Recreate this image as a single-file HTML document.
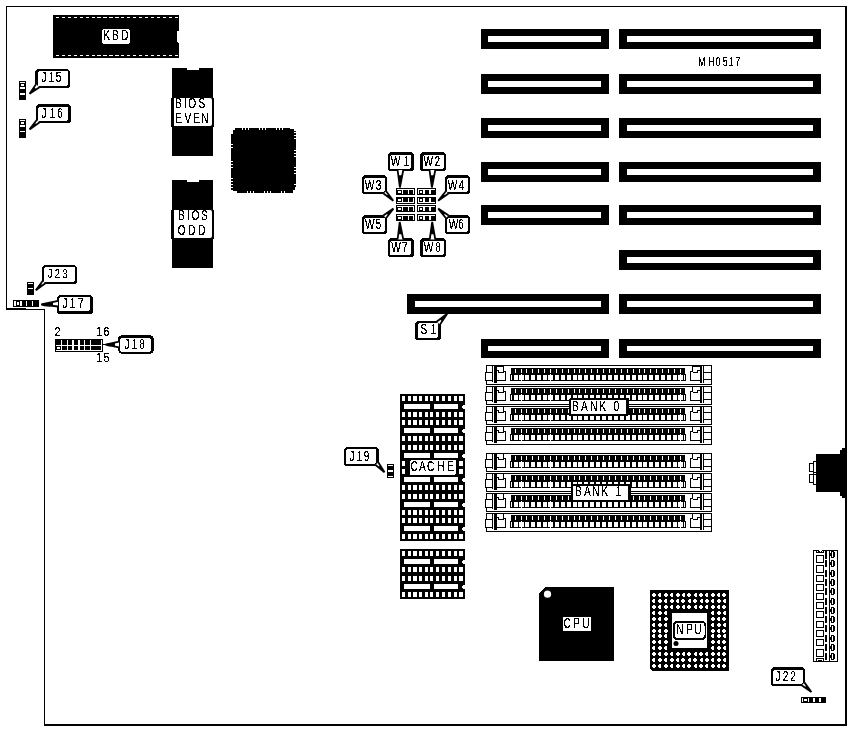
<!DOCTYPE html>
<html>
<head>
<meta charset="utf-8">
<title>MH0517</title>
<style>
html, body { margin: 0; padding: 0; background: #fff; }
svg { display: block; }
text { font-family: "Liberation Sans", sans-serif; fill: #000; stroke: #000; stroke-width: 0.22px; font-kerning: none; font-variant-ligatures: none; }
</style>
</head>
<body>
<svg width="851" height="731" viewBox="0 0 851 731" shape-rendering="crispEdges">
<rect x="0" y="0" width="851" height="731" fill="#fff"/>
<rect x="6" y="6" width="841" height="1"/>
<rect x="6" y="6" width="1" height="303"/>
<rect x="6" y="308" width="20" height="2"/>
<rect x="25" y="309" width="20" height="1"/>
<rect x="44" y="309" width="1" height="417"/>
<rect x="44" y="724" width="803" height="2"/>
<rect x="845" y="6" width="2" height="720"/>
<rect x="53" y="15" width="126" height="43"/>
<path d="M55.8 17.5 H178 M55.8 55.5 H178" stroke="#fff" stroke-width="1" stroke-dasharray="3.2 2.75" fill="none"/>
<path d="M179 31 h-2 v11 h1 v1 h1 Z" fill="#fff"/>
<path d="M103 29 H129 v1 h1 V43 h-1 v1 H103 v-1 h-1 V30 h1 Z" fill="#fff"/>
<rect x="19" y="81" width="7" height="19"/>
<rect x="20" y="82" width="5" height="1" fill="#fff"/>
<rect x="21" y="84" width="3" height="2" fill="#fff"/>
<rect x="20" y="87" width="5" height="2" fill="#fff"/>
<rect x="20" y="93" width="5" height="2" fill="#fff"/>
<rect x="35" y="69" width="35" height="19" rx="3.5" ry="3.5"/>
<rect x="38" y="71" width="30" height="15" rx="2.0" ry="2.0" fill="#fff"/>
<path d="M36 84.3 L29.6 93.8 L39.5 87.2" fill="#fff" stroke="#000" stroke-width="1.8" stroke-linejoin="bevel" shape-rendering="auto"/>
<path d="M34.08 87.15 L29.6 93.8 L36.53 89.18 Z" shape-rendering="auto"/>
<rect x="19" y="119" width="7" height="19"/>
<rect x="20" y="120" width="5" height="1" fill="#fff"/>
<rect x="21" y="122" width="3" height="2" fill="#fff"/>
<rect x="20" y="125" width="5" height="2" fill="#fff"/>
<rect x="20" y="131" width="5" height="1" fill="#fff"/>
<rect x="36" y="104" width="35" height="19" rx="3.5" ry="3.5"/>
<rect x="38" y="107" width="30" height="14" rx="2.0" ry="2.0" fill="#fff"/>
<path d="M36.7 120 L29.6 129.4 L39.7 122.3" fill="#fff" stroke="#000" stroke-width="1.8" stroke-linejoin="bevel" shape-rendering="auto"/>
<path d="M34.57 122.82 L29.6 129.4 L36.67 124.43 Z" shape-rendering="auto"/>
<rect x="172" y="68" width="41" height="88"/>
<rect x="187" y="68" width="12" height="2" fill="#fff"/>
<rect x="171" y="98" width="43" height="29" rx="1.5"/>
<path d="M174 98 H210 a2 2 0 0 1 2 2 V124 a2 2 0 0 1 -2 2 H174 Z" fill="#fff" shape-rendering="auto"/>
<rect x="172" y="180" width="41" height="88"/>
<rect x="187" y="180" width="12" height="2" fill="#fff"/>
<rect x="171" y="210" width="43" height="29" rx="1.5"/>
<path d="M174 210 H210 a2 2 0 0 1 2 2 V236 a2 2 0 0 1 -2 2 H174 Z" fill="#fff" shape-rendering="auto"/>
<path d="M235 128 H290 v1 h4 v2 h2 V187 h-1 v3 h-2 v3 H237 v-2 h-4 v-1 h-2 V134 h2 v-4 h2 Z"/>
<rect x="242" y="128" width="1" height="2" fill="#fff"/>
<rect x="245" y="128" width="1" height="2" fill="#fff"/>
<rect x="248" y="128" width="1" height="2" fill="#fff"/>
<rect x="259" y="128" width="1" height="2" fill="#fff"/>
<rect x="262" y="128" width="1" height="2" fill="#fff"/>
<rect x="265" y="128" width="1" height="2" fill="#fff"/>
<rect x="276" y="128" width="1" height="2" fill="#fff"/>
<rect x="279" y="128" width="1" height="2" fill="#fff"/>
<rect x="282" y="128" width="1" height="2" fill="#fff"/>
<rect x="247" y="191" width="1" height="2" fill="#fff"/>
<rect x="250" y="191" width="1" height="2" fill="#fff"/>
<rect x="253" y="191" width="1" height="2" fill="#fff"/>
<rect x="264" y="191" width="1" height="2" fill="#fff"/>
<rect x="267" y="191" width="1" height="2" fill="#fff"/>
<rect x="270" y="191" width="1" height="2" fill="#fff"/>
<rect x="281" y="191" width="1" height="2" fill="#fff"/>
<rect x="284" y="191" width="1" height="2" fill="#fff"/>
<rect x="231" y="144" width="2" height="1" fill="#fff"/>
<rect x="231" y="147" width="2" height="1" fill="#fff"/>
<rect x="231" y="161" width="2" height="1" fill="#fff"/>
<rect x="231" y="164" width="2" height="1" fill="#fff"/>
<rect x="231" y="167" width="2" height="1" fill="#fff"/>
<rect x="231" y="178" width="2" height="1" fill="#fff"/>
<rect x="231" y="181" width="2" height="1" fill="#fff"/>
<rect x="231" y="184" width="2" height="1" fill="#fff"/>
<rect x="231" y="187" width="2" height="1" fill="#fff"/>
<rect x="294" y="132" width="2" height="1" fill="#fff"/>
<rect x="294" y="135" width="2" height="1" fill="#fff"/>
<rect x="294" y="138" width="2" height="1" fill="#fff"/>
<rect x="294" y="150" width="2" height="1" fill="#fff"/>
<rect x="294" y="153" width="2" height="1" fill="#fff"/>
<rect x="294" y="156" width="2" height="1" fill="#fff"/>
<rect x="294" y="167" width="2" height="1" fill="#fff"/>
<rect x="294" y="170" width="2" height="1" fill="#fff"/>
<rect x="294" y="173" width="2" height="1" fill="#fff"/>
<rect x="294" y="184" width="2" height="1" fill="#fff"/>
<rect x="481" y="29" width="128" height="20"/>
<rect x="488" y="36" width="113" height="6" fill="#fff"/>
<rect x="481" y="74" width="128" height="20"/>
<rect x="488" y="81" width="113" height="6" fill="#fff"/>
<rect x="481" y="118" width="128" height="20"/>
<rect x="488" y="125" width="113" height="6" fill="#fff"/>
<rect x="481" y="162" width="128" height="20"/>
<rect x="488" y="169" width="113" height="6" fill="#fff"/>
<rect x="481" y="205" width="128" height="20"/>
<rect x="488" y="212" width="113" height="6" fill="#fff"/>
<rect x="407" y="294" width="202" height="20"/>
<rect x="415" y="301" width="186" height="6" fill="#fff"/>
<rect x="481" y="339" width="128" height="19"/>
<rect x="488" y="346" width="113" height="5" fill="#fff"/>
<rect x="619" y="29" width="202" height="20"/>
<rect x="627" y="36" width="186" height="6" fill="#fff"/>
<rect x="619" y="74" width="202" height="20"/>
<rect x="627" y="81" width="186" height="6" fill="#fff"/>
<rect x="619" y="118" width="202" height="20"/>
<rect x="627" y="125" width="186" height="6" fill="#fff"/>
<rect x="619" y="162" width="202" height="20"/>
<rect x="627" y="169" width="186" height="6" fill="#fff"/>
<rect x="619" y="205" width="202" height="20"/>
<rect x="627" y="212" width="186" height="6" fill="#fff"/>
<rect x="619" y="250" width="202" height="20"/>
<rect x="627" y="257" width="186" height="6" fill="#fff"/>
<rect x="619" y="294" width="202" height="20"/>
<rect x="627" y="301" width="186" height="6" fill="#fff"/>
<rect x="619" y="339" width="202" height="19"/>
<rect x="627" y="346" width="186" height="5" fill="#fff"/>
<rect x="415" y="321" width="26" height="19" rx="3.5" ry="3.5"/>
<rect x="418" y="323" width="20" height="15" rx="2.0" ry="2.0" fill="#fff"/>
<path d="M436.5 321.7 L447.2 313.8 L440 324.5" fill="#fff" stroke="#000" stroke-width="1.8" stroke-linejoin="bevel" shape-rendering="auto"/>
<path d="M439.71 319.33 L447.2 313.8 L442.16 321.29 Z" shape-rendering="auto"/>
<rect x="396" y="188" width="19" height="7"/>
<rect x="397" y="189" width="17" height="1" fill="#fff"/>
<rect x="402" y="189" width="1" height="5" fill="#fff"/>
<rect x="408" y="189" width="1" height="5" fill="#fff"/>
<rect x="413" y="189" width="1" height="5" fill="#fff"/>
<rect x="398" y="191" width="3" height="2" fill="#fff"/>
<rect x="417" y="188" width="19" height="7"/>
<rect x="418" y="189" width="17" height="1" fill="#fff"/>
<rect x="418" y="189" width="1" height="5" fill="#fff"/>
<rect x="420" y="191" width="2" height="2" fill="#fff"/>
<rect x="423" y="189" width="2" height="5" fill="#fff"/>
<rect x="429" y="189" width="2" height="5" fill="#fff"/>
<rect x="396" y="197" width="19" height="7"/>
<rect x="397" y="202" width="17" height="1" fill="#fff"/>
<rect x="402" y="198" width="1" height="5" fill="#fff"/>
<rect x="408" y="198" width="1" height="5" fill="#fff"/>
<rect x="413" y="198" width="1" height="5" fill="#fff"/>
<rect x="398" y="199" width="3" height="2" fill="#fff"/>
<rect x="417" y="197" width="19" height="7"/>
<rect x="418" y="202" width="17" height="1" fill="#fff"/>
<rect x="418" y="198" width="1" height="5" fill="#fff"/>
<rect x="420" y="199" width="2" height="2" fill="#fff"/>
<rect x="423" y="198" width="2" height="5" fill="#fff"/>
<rect x="429" y="198" width="2" height="5" fill="#fff"/>
<rect x="396" y="205" width="19" height="7"/>
<rect x="397" y="206" width="17" height="1" fill="#fff"/>
<rect x="402" y="206" width="1" height="5" fill="#fff"/>
<rect x="408" y="206" width="1" height="5" fill="#fff"/>
<rect x="413" y="206" width="1" height="5" fill="#fff"/>
<rect x="398" y="208" width="3" height="2" fill="#fff"/>
<rect x="417" y="205" width="19" height="7"/>
<rect x="418" y="206" width="17" height="1" fill="#fff"/>
<rect x="418" y="206" width="1" height="5" fill="#fff"/>
<rect x="420" y="208" width="2" height="2" fill="#fff"/>
<rect x="423" y="206" width="2" height="5" fill="#fff"/>
<rect x="429" y="206" width="2" height="5" fill="#fff"/>
<rect x="396" y="214" width="19" height="7"/>
<rect x="397" y="215" width="17" height="1" fill="#fff"/>
<rect x="402" y="215" width="1" height="5" fill="#fff"/>
<rect x="408" y="215" width="1" height="5" fill="#fff"/>
<rect x="413" y="215" width="1" height="5" fill="#fff"/>
<rect x="398" y="217" width="3" height="2" fill="#fff"/>
<rect x="417" y="214" width="19" height="7"/>
<rect x="418" y="215" width="17" height="1" fill="#fff"/>
<rect x="418" y="215" width="1" height="5" fill="#fff"/>
<rect x="420" y="217" width="2" height="2" fill="#fff"/>
<rect x="423" y="215" width="2" height="5" fill="#fff"/>
<rect x="429" y="215" width="2" height="5" fill="#fff"/>
<rect x="388" y="152" width="26" height="19" rx="3.5" ry="3.5"/>
<rect x="390" y="155" width="21" height="14" rx="2.0" ry="2.0" fill="#fff"/>
<path d="M397.6 170 L399.9 187.5 L403.3 170" fill="#fff" stroke="#000" stroke-width="1.8" stroke-linejoin="bevel" shape-rendering="auto"/>
<path d="M398.29 175.25 L399.9 187.5 L402.28 175.25 Z" shape-rendering="auto"/>
<rect x="420" y="152" width="26" height="19" rx="3.5" ry="3.5"/>
<rect x="423" y="155" width="21" height="14" rx="2.0" ry="2.0" fill="#fff"/>
<path d="M429.5 170 L431.9 187.5 L435.3 170" fill="#fff" stroke="#000" stroke-width="1.8" stroke-linejoin="bevel" shape-rendering="auto"/>
<path d="M430.22 175.25 L431.9 187.5 L434.28 175.25 Z" shape-rendering="auto"/>
<rect x="362" y="175" width="25" height="19" rx="3.5" ry="3.5"/>
<rect x="364" y="178" width="21" height="14" rx="2.0" ry="2.0" fill="#fff"/>
<path d="M386.2 191.3 L393.3 200.8 L383.5 193.5" fill="#fff" stroke="#000" stroke-width="1.8" stroke-linejoin="bevel" shape-rendering="auto"/>
<path d="M388.33 194.15 L393.3 200.8 L386.44 195.69 Z" shape-rendering="auto"/>
<rect x="445" y="175" width="25" height="19" rx="3.5" ry="3.5"/>
<rect x="447" y="178" width="21" height="14" rx="2.0" ry="2.0" fill="#fff"/>
<path d="M445.8 191.3 L438.2 200.8 L448.5 193.5" fill="#fff" stroke="#000" stroke-width="1.8" stroke-linejoin="bevel" shape-rendering="auto"/>
<path d="M443.52 194.15 L438.2 200.8 L445.41 195.69 Z" shape-rendering="auto"/>
<rect x="362" y="215" width="25" height="19" rx="3.5" ry="3.5"/>
<rect x="364" y="218" width="21" height="14" rx="2.0" ry="2.0" fill="#fff"/>
<path d="M383.3 215.6 L393.4 208.6 L386.2 218" fill="#fff" stroke="#000" stroke-width="1.8" stroke-linejoin="bevel" shape-rendering="auto"/>
<path d="M386.33 213.5 L393.4 208.6 L388.36 215.18 Z" shape-rendering="auto"/>
<rect x="445" y="215" width="25" height="19" rx="3.5" ry="3.5"/>
<rect x="447" y="218" width="21" height="14" rx="2.0" ry="2.0" fill="#fff"/>
<path d="M448.7 215.6 L438.2 208.6 L445.8 218" fill="#fff" stroke="#000" stroke-width="1.8" stroke-linejoin="bevel" shape-rendering="auto"/>
<path d="M445.55 213.5 L438.2 208.6 L443.52 215.18 Z" shape-rendering="auto"/>
<rect x="388" y="238" width="26" height="19" rx="3.5" ry="3.5"/>
<rect x="390" y="241" width="21" height="14" rx="2.0" ry="2.0" fill="#fff"/>
<path d="M397.6 239.5 L399.7 222 L403.3 239.5" fill="#fff" stroke="#000" stroke-width="1.8" stroke-linejoin="bevel" shape-rendering="auto"/>
<path d="M398.23 234.25 L399.7 222 L402.22 234.25 Z" shape-rendering="auto"/>
<rect x="420" y="238" width="26" height="19" rx="3.5" ry="3.5"/>
<rect x="423" y="241" width="21" height="14" rx="2.0" ry="2.0" fill="#fff"/>
<path d="M429.7 239.5 L432.2 222 L435.3 239.5" fill="#fff" stroke="#000" stroke-width="1.8" stroke-linejoin="bevel" shape-rendering="auto"/>
<path d="M430.45 234.25 L432.2 222 L434.37 234.25 Z" shape-rendering="auto"/>
<rect x="27" y="282" width="7" height="13"/>
<rect x="28" y="283" width="5" height="1" fill="#fff"/>
<rect x="28" y="288" width="5" height="1" fill="#fff"/>
<rect x="42" y="265" width="35" height="19" rx="3.5" ry="3.5"/>
<rect x="44" y="267" width="31" height="15" rx="2.0" ry="2.0" fill="#fff"/>
<path d="M42.6 281 L35.8 290.2 L45.4 283.2" fill="#fff" stroke="#000" stroke-width="1.8" stroke-linejoin="bevel" shape-rendering="auto"/>
<path d="M40.56 283.76 L35.8 290.2 L42.52 285.3 Z" shape-rendering="auto"/>
<rect x="13" y="300" width="26" height="7"/>
<rect x="14" y="301" width="2" height="5" fill="#fff"/>
<rect x="20" y="301" width="2" height="5" fill="#fff"/>
<rect x="17" y="302" width="2" height="3" fill="#fff"/>
<rect x="26" y="301" width="1" height="5" fill="#fff"/>
<rect x="32" y="301" width="1" height="5" fill="#fff"/>
<rect x="57" y="295" width="36" height="19" rx="3.5" ry="3.5"/>
<rect x="59" y="297" width="31" height="14" rx="2.0" ry="2.0" fill="#fff"/>
<path d="M58 300.8 L41.3 304.5 L58 306.5" fill="#fff" stroke="#000" stroke-width="1.8" stroke-linejoin="bevel" shape-rendering="auto"/>
<path d="M52.99 301.91 L41.3 304.5 L52.99 305.9 Z" shape-rendering="auto"/>
<path d="M41.2 304.6 L44 303 L50.5 302.7 L50.5 306.4 L44 306.2 Z" shape-rendering="auto"/>
<rect x="55" y="339" width="48" height="13"/>
<rect x="61" y="340" width="1" height="11" fill="#fff"/>
<rect x="67" y="340" width="1" height="11" fill="#fff"/>
<rect x="72" y="340" width="2" height="11" fill="#fff"/>
<rect x="78" y="340" width="2" height="11" fill="#fff"/>
<rect x="84" y="340" width="1" height="11" fill="#fff"/>
<rect x="90" y="340" width="1" height="11" fill="#fff"/>
<rect x="101" y="340" width="1" height="11" fill="#fff"/>
<rect x="56" y="345" width="46" height="1" fill="#fff"/>
<rect x="56" y="350" width="46" height="1" fill="#fff"/>
<rect x="57" y="347" width="3" height="2" fill="#fff"/>
<rect x="103" y="344" width="4" height="1"/>
<rect x="118" y="335" width="36" height="19" rx="4.5" ry="4.5"/>
<rect x="120" y="338" width="31" height="14" rx="3.0" ry="3.0" fill="#fff"/>
<path d="M119 341.7 L105.5 344.6 L119 347.4" fill="#fff" stroke="#000" stroke-width="1.8" stroke-linejoin="bevel" shape-rendering="auto"/>
<path d="M114.95 342.57 L105.5 344.6 L114.95 346.56 Z" shape-rendering="auto"/>
<path d="M105.5 344.6 L108 343.3 L111.5 343.2 L111.5 346.3 L108 346.3 Z" shape-rendering="auto"/>
<rect x="486" y="365" width="226" height="1"/>
<rect x="486" y="384" width="226" height="1"/>
<rect x="486" y="365" width="1" height="20"/>
<rect x="711" y="365" width="1" height="20"/>
<rect x="485" y="372" width="8" height="1"/>
<rect x="485" y="372" width="1" height="9"/>
<rect x="485" y="380" width="8" height="1"/>
<rect x="486" y="373" width="1" height="7" fill="#fff"/>
<rect x="492" y="365" width="1" height="17"/>
<rect x="494" y="365" width="3" height="18"/>
<rect x="497" y="366" width="7" height="1"/>
<rect x="503" y="366" width="1" height="6"/>
<rect x="503" y="371" width="3" height="1"/>
<rect x="505" y="371" width="1" height="10"/>
<rect x="497" y="380" width="9" height="1"/>
<rect x="497" y="370" width="2" height="1"/>
<rect x="498" y="370" width="1" height="3"/>
<rect x="498" y="372" width="6" height="1"/>
<rect x="511" y="368" width="174" height="7"/>
<rect x="510" y="374" width="176" height="7"/>
<rect x="511" y="375" width="1" height="5" fill="#fff"/>
<rect x="514" y="375" width="4" height="5" fill="#fff"/>
<rect x="515" y="369" width="1" height="4" fill="#fff"/>
<rect x="520" y="375" width="4" height="5" fill="#fff"/>
<rect x="521" y="369" width="1" height="4" fill="#fff"/>
<rect x="525" y="375" width="4" height="5" fill="#fff"/>
<rect x="526" y="369" width="1" height="4" fill="#fff"/>
<rect x="531" y="375" width="4" height="5" fill="#fff"/>
<rect x="532" y="369" width="1" height="4" fill="#fff"/>
<rect x="537" y="375" width="4" height="5" fill="#fff"/>
<rect x="538" y="369" width="1" height="4" fill="#fff"/>
<rect x="543" y="375" width="4" height="5" fill="#fff"/>
<rect x="544" y="369" width="1" height="4" fill="#fff"/>
<rect x="549" y="375" width="4" height="5" fill="#fff"/>
<rect x="550" y="369" width="1" height="4" fill="#fff"/>
<rect x="555" y="375" width="4" height="5" fill="#fff"/>
<rect x="556" y="369" width="1" height="4" fill="#fff"/>
<rect x="561" y="375" width="4" height="5" fill="#fff"/>
<rect x="562" y="369" width="1" height="4" fill="#fff"/>
<rect x="567" y="375" width="4" height="5" fill="#fff"/>
<rect x="568" y="369" width="1" height="4" fill="#fff"/>
<rect x="573" y="375" width="4" height="5" fill="#fff"/>
<rect x="574" y="369" width="1" height="4" fill="#fff"/>
<rect x="578" y="375" width="4" height="5" fill="#fff"/>
<rect x="579" y="369" width="1" height="4" fill="#fff"/>
<rect x="584" y="375" width="4" height="5" fill="#fff"/>
<rect x="585" y="369" width="1" height="4" fill="#fff"/>
<rect x="590" y="375" width="4" height="5" fill="#fff"/>
<rect x="591" y="369" width="1" height="4" fill="#fff"/>
<rect x="596" y="375" width="4" height="5" fill="#fff"/>
<rect x="597" y="369" width="1" height="4" fill="#fff"/>
<rect x="602" y="375" width="4" height="5" fill="#fff"/>
<rect x="603" y="369" width="1" height="4" fill="#fff"/>
<rect x="608" y="375" width="4" height="5" fill="#fff"/>
<rect x="609" y="369" width="1" height="4" fill="#fff"/>
<rect x="614" y="375" width="4" height="5" fill="#fff"/>
<rect x="615" y="369" width="1" height="4" fill="#fff"/>
<rect x="620" y="375" width="4" height="5" fill="#fff"/>
<rect x="621" y="369" width="1" height="4" fill="#fff"/>
<rect x="626" y="375" width="4" height="5" fill="#fff"/>
<rect x="627" y="369" width="1" height="4" fill="#fff"/>
<rect x="632" y="375" width="4" height="5" fill="#fff"/>
<rect x="633" y="369" width="1" height="4" fill="#fff"/>
<rect x="638" y="375" width="4" height="5" fill="#fff"/>
<rect x="639" y="369" width="1" height="4" fill="#fff"/>
<rect x="643" y="375" width="4" height="5" fill="#fff"/>
<rect x="644" y="369" width="1" height="4" fill="#fff"/>
<rect x="649" y="375" width="4" height="5" fill="#fff"/>
<rect x="650" y="369" width="1" height="4" fill="#fff"/>
<rect x="655" y="375" width="4" height="5" fill="#fff"/>
<rect x="656" y="369" width="1" height="4" fill="#fff"/>
<rect x="661" y="375" width="4" height="5" fill="#fff"/>
<rect x="662" y="369" width="1" height="4" fill="#fff"/>
<rect x="667" y="375" width="4" height="5" fill="#fff"/>
<rect x="668" y="369" width="1" height="4" fill="#fff"/>
<rect x="673" y="375" width="4" height="5" fill="#fff"/>
<rect x="674" y="369" width="1" height="4" fill="#fff"/>
<rect x="679" y="375" width="4" height="5" fill="#fff"/>
<rect x="680" y="369" width="1" height="4" fill="#fff"/>
<rect x="684" y="375" width="1" height="5" fill="#fff"/>
<rect x="519" y="375" width="5" height="5" fill="#fff"/>
<rect x="521" y="374" width="1" height="1" fill="#fff"/>
<rect x="521" y="380" width="1" height="1" fill="#fff"/>
<rect x="548" y="375" width="5" height="5" fill="#fff"/>
<rect x="550" y="374" width="1" height="1" fill="#fff"/>
<rect x="550" y="380" width="1" height="1" fill="#fff"/>
<rect x="678" y="375" width="5" height="5" fill="#fff"/>
<rect x="680" y="374" width="1" height="1" fill="#fff"/>
<rect x="680" y="380" width="1" height="1" fill="#fff"/>
<rect x="692" y="366" width="8" height="1"/>
<rect x="692" y="366" width="1" height="6"/>
<rect x="690" y="371" width="3" height="1"/>
<rect x="690" y="371" width="1" height="10"/>
<rect x="690" y="380" width="10" height="1"/>
<rect x="697" y="370" width="3" height="1"/>
<rect x="697" y="370" width="1" height="3"/>
<rect x="693" y="372" width="5" height="1"/>
<rect x="700" y="365" width="2" height="18"/>
<rect x="703" y="365" width="1" height="18"/>
<rect x="704" y="372" width="8" height="1"/>
<rect x="704" y="379" width="8" height="1"/>
<rect x="486" y="386" width="226" height="1"/>
<rect x="486" y="404" width="226" height="1"/>
<rect x="486" y="386" width="1" height="19"/>
<rect x="711" y="386" width="1" height="19"/>
<rect x="485" y="392" width="8" height="1"/>
<rect x="485" y="392" width="1" height="9"/>
<rect x="485" y="400" width="8" height="1"/>
<rect x="486" y="393" width="1" height="7" fill="#fff"/>
<rect x="492" y="386" width="1" height="16"/>
<rect x="494" y="386" width="3" height="17"/>
<rect x="497" y="386" width="7" height="1"/>
<rect x="503" y="386" width="1" height="6"/>
<rect x="503" y="391" width="3" height="1"/>
<rect x="505" y="391" width="1" height="10"/>
<rect x="497" y="400" width="9" height="1"/>
<rect x="497" y="390" width="2" height="1"/>
<rect x="498" y="390" width="1" height="3"/>
<rect x="498" y="392" width="6" height="1"/>
<rect x="511" y="388" width="174" height="7"/>
<rect x="510" y="394" width="176" height="7"/>
<rect x="511" y="395" width="1" height="5" fill="#fff"/>
<rect x="514" y="395" width="4" height="5" fill="#fff"/>
<rect x="515" y="389" width="1" height="4" fill="#fff"/>
<rect x="520" y="395" width="4" height="5" fill="#fff"/>
<rect x="521" y="389" width="1" height="4" fill="#fff"/>
<rect x="525" y="395" width="4" height="5" fill="#fff"/>
<rect x="526" y="389" width="1" height="4" fill="#fff"/>
<rect x="531" y="395" width="4" height="5" fill="#fff"/>
<rect x="532" y="389" width="1" height="4" fill="#fff"/>
<rect x="537" y="395" width="4" height="5" fill="#fff"/>
<rect x="538" y="389" width="1" height="4" fill="#fff"/>
<rect x="543" y="395" width="4" height="5" fill="#fff"/>
<rect x="544" y="389" width="1" height="4" fill="#fff"/>
<rect x="549" y="395" width="4" height="5" fill="#fff"/>
<rect x="550" y="389" width="1" height="4" fill="#fff"/>
<rect x="555" y="395" width="4" height="5" fill="#fff"/>
<rect x="556" y="389" width="1" height="4" fill="#fff"/>
<rect x="561" y="395" width="4" height="5" fill="#fff"/>
<rect x="562" y="389" width="1" height="4" fill="#fff"/>
<rect x="567" y="395" width="4" height="5" fill="#fff"/>
<rect x="568" y="389" width="1" height="4" fill="#fff"/>
<rect x="573" y="395" width="4" height="5" fill="#fff"/>
<rect x="574" y="389" width="1" height="4" fill="#fff"/>
<rect x="578" y="395" width="4" height="5" fill="#fff"/>
<rect x="579" y="389" width="1" height="4" fill="#fff"/>
<rect x="584" y="395" width="4" height="5" fill="#fff"/>
<rect x="585" y="389" width="1" height="4" fill="#fff"/>
<rect x="590" y="395" width="4" height="5" fill="#fff"/>
<rect x="591" y="389" width="1" height="4" fill="#fff"/>
<rect x="596" y="395" width="4" height="5" fill="#fff"/>
<rect x="597" y="389" width="1" height="4" fill="#fff"/>
<rect x="602" y="395" width="4" height="5" fill="#fff"/>
<rect x="603" y="389" width="1" height="4" fill="#fff"/>
<rect x="608" y="395" width="4" height="5" fill="#fff"/>
<rect x="609" y="389" width="1" height="4" fill="#fff"/>
<rect x="614" y="395" width="4" height="5" fill="#fff"/>
<rect x="615" y="389" width="1" height="4" fill="#fff"/>
<rect x="620" y="395" width="4" height="5" fill="#fff"/>
<rect x="621" y="389" width="1" height="4" fill="#fff"/>
<rect x="626" y="395" width="4" height="5" fill="#fff"/>
<rect x="627" y="389" width="1" height="4" fill="#fff"/>
<rect x="632" y="395" width="4" height="5" fill="#fff"/>
<rect x="633" y="389" width="1" height="4" fill="#fff"/>
<rect x="638" y="395" width="4" height="5" fill="#fff"/>
<rect x="639" y="389" width="1" height="4" fill="#fff"/>
<rect x="643" y="395" width="4" height="5" fill="#fff"/>
<rect x="644" y="389" width="1" height="4" fill="#fff"/>
<rect x="649" y="395" width="4" height="5" fill="#fff"/>
<rect x="650" y="389" width="1" height="4" fill="#fff"/>
<rect x="655" y="395" width="4" height="5" fill="#fff"/>
<rect x="656" y="389" width="1" height="4" fill="#fff"/>
<rect x="661" y="395" width="4" height="5" fill="#fff"/>
<rect x="662" y="389" width="1" height="4" fill="#fff"/>
<rect x="667" y="395" width="4" height="5" fill="#fff"/>
<rect x="668" y="389" width="1" height="4" fill="#fff"/>
<rect x="673" y="395" width="4" height="5" fill="#fff"/>
<rect x="674" y="389" width="1" height="4" fill="#fff"/>
<rect x="679" y="395" width="4" height="5" fill="#fff"/>
<rect x="680" y="389" width="1" height="4" fill="#fff"/>
<rect x="684" y="395" width="1" height="5" fill="#fff"/>
<rect x="519" y="395" width="5" height="5" fill="#fff"/>
<rect x="521" y="394" width="1" height="1" fill="#fff"/>
<rect x="521" y="400" width="1" height="1" fill="#fff"/>
<rect x="548" y="395" width="5" height="5" fill="#fff"/>
<rect x="550" y="394" width="1" height="1" fill="#fff"/>
<rect x="550" y="400" width="1" height="1" fill="#fff"/>
<rect x="678" y="395" width="5" height="5" fill="#fff"/>
<rect x="680" y="394" width="1" height="1" fill="#fff"/>
<rect x="680" y="400" width="1" height="1" fill="#fff"/>
<rect x="692" y="386" width="8" height="1"/>
<rect x="692" y="386" width="1" height="6"/>
<rect x="690" y="391" width="3" height="1"/>
<rect x="690" y="391" width="1" height="10"/>
<rect x="690" y="400" width="10" height="1"/>
<rect x="697" y="390" width="3" height="1"/>
<rect x="697" y="390" width="1" height="3"/>
<rect x="693" y="392" width="5" height="1"/>
<rect x="700" y="386" width="2" height="17"/>
<rect x="703" y="386" width="1" height="17"/>
<rect x="704" y="392" width="8" height="1"/>
<rect x="704" y="399" width="8" height="1"/>
<rect x="486" y="406" width="226" height="1"/>
<rect x="486" y="424" width="226" height="1"/>
<rect x="486" y="406" width="1" height="19"/>
<rect x="711" y="406" width="1" height="19"/>
<rect x="485" y="412" width="8" height="1"/>
<rect x="485" y="412" width="1" height="9"/>
<rect x="485" y="420" width="8" height="1"/>
<rect x="486" y="413" width="1" height="7" fill="#fff"/>
<rect x="492" y="406" width="1" height="16"/>
<rect x="494" y="406" width="3" height="17"/>
<rect x="497" y="406" width="7" height="1"/>
<rect x="503" y="406" width="1" height="6"/>
<rect x="503" y="411" width="3" height="1"/>
<rect x="505" y="411" width="1" height="10"/>
<rect x="497" y="420" width="9" height="1"/>
<rect x="497" y="410" width="2" height="1"/>
<rect x="498" y="410" width="1" height="3"/>
<rect x="498" y="412" width="6" height="1"/>
<rect x="511" y="408" width="174" height="7"/>
<rect x="510" y="414" width="176" height="7"/>
<rect x="511" y="415" width="1" height="5" fill="#fff"/>
<rect x="514" y="415" width="4" height="5" fill="#fff"/>
<rect x="515" y="409" width="1" height="4" fill="#fff"/>
<rect x="520" y="415" width="4" height="5" fill="#fff"/>
<rect x="521" y="409" width="1" height="4" fill="#fff"/>
<rect x="525" y="415" width="4" height="5" fill="#fff"/>
<rect x="526" y="409" width="1" height="4" fill="#fff"/>
<rect x="531" y="415" width="4" height="5" fill="#fff"/>
<rect x="532" y="409" width="1" height="4" fill="#fff"/>
<rect x="537" y="415" width="4" height="5" fill="#fff"/>
<rect x="538" y="409" width="1" height="4" fill="#fff"/>
<rect x="543" y="415" width="4" height="5" fill="#fff"/>
<rect x="544" y="409" width="1" height="4" fill="#fff"/>
<rect x="549" y="415" width="4" height="5" fill="#fff"/>
<rect x="550" y="409" width="1" height="4" fill="#fff"/>
<rect x="555" y="415" width="4" height="5" fill="#fff"/>
<rect x="556" y="409" width="1" height="4" fill="#fff"/>
<rect x="561" y="415" width="4" height="5" fill="#fff"/>
<rect x="562" y="409" width="1" height="4" fill="#fff"/>
<rect x="567" y="415" width="4" height="5" fill="#fff"/>
<rect x="568" y="409" width="1" height="4" fill="#fff"/>
<rect x="573" y="415" width="4" height="5" fill="#fff"/>
<rect x="574" y="409" width="1" height="4" fill="#fff"/>
<rect x="578" y="415" width="4" height="5" fill="#fff"/>
<rect x="579" y="409" width="1" height="4" fill="#fff"/>
<rect x="584" y="415" width="4" height="5" fill="#fff"/>
<rect x="585" y="409" width="1" height="4" fill="#fff"/>
<rect x="590" y="415" width="4" height="5" fill="#fff"/>
<rect x="591" y="409" width="1" height="4" fill="#fff"/>
<rect x="596" y="415" width="4" height="5" fill="#fff"/>
<rect x="597" y="409" width="1" height="4" fill="#fff"/>
<rect x="602" y="415" width="4" height="5" fill="#fff"/>
<rect x="603" y="409" width="1" height="4" fill="#fff"/>
<rect x="608" y="415" width="4" height="5" fill="#fff"/>
<rect x="609" y="409" width="1" height="4" fill="#fff"/>
<rect x="614" y="415" width="4" height="5" fill="#fff"/>
<rect x="615" y="409" width="1" height="4" fill="#fff"/>
<rect x="620" y="415" width="4" height="5" fill="#fff"/>
<rect x="621" y="409" width="1" height="4" fill="#fff"/>
<rect x="626" y="415" width="4" height="5" fill="#fff"/>
<rect x="627" y="409" width="1" height="4" fill="#fff"/>
<rect x="632" y="415" width="4" height="5" fill="#fff"/>
<rect x="633" y="409" width="1" height="4" fill="#fff"/>
<rect x="638" y="415" width="4" height="5" fill="#fff"/>
<rect x="639" y="409" width="1" height="4" fill="#fff"/>
<rect x="643" y="415" width="4" height="5" fill="#fff"/>
<rect x="644" y="409" width="1" height="4" fill="#fff"/>
<rect x="649" y="415" width="4" height="5" fill="#fff"/>
<rect x="650" y="409" width="1" height="4" fill="#fff"/>
<rect x="655" y="415" width="4" height="5" fill="#fff"/>
<rect x="656" y="409" width="1" height="4" fill="#fff"/>
<rect x="661" y="415" width="4" height="5" fill="#fff"/>
<rect x="662" y="409" width="1" height="4" fill="#fff"/>
<rect x="667" y="415" width="4" height="5" fill="#fff"/>
<rect x="668" y="409" width="1" height="4" fill="#fff"/>
<rect x="673" y="415" width="4" height="5" fill="#fff"/>
<rect x="674" y="409" width="1" height="4" fill="#fff"/>
<rect x="679" y="415" width="4" height="5" fill="#fff"/>
<rect x="680" y="409" width="1" height="4" fill="#fff"/>
<rect x="684" y="415" width="1" height="5" fill="#fff"/>
<rect x="519" y="415" width="5" height="5" fill="#fff"/>
<rect x="521" y="414" width="1" height="1" fill="#fff"/>
<rect x="521" y="420" width="1" height="1" fill="#fff"/>
<rect x="548" y="415" width="5" height="5" fill="#fff"/>
<rect x="550" y="414" width="1" height="1" fill="#fff"/>
<rect x="550" y="420" width="1" height="1" fill="#fff"/>
<rect x="678" y="415" width="5" height="5" fill="#fff"/>
<rect x="680" y="414" width="1" height="1" fill="#fff"/>
<rect x="680" y="420" width="1" height="1" fill="#fff"/>
<rect x="692" y="406" width="8" height="1"/>
<rect x="692" y="406" width="1" height="6"/>
<rect x="690" y="411" width="3" height="1"/>
<rect x="690" y="411" width="1" height="10"/>
<rect x="690" y="420" width="10" height="1"/>
<rect x="697" y="410" width="3" height="1"/>
<rect x="697" y="410" width="1" height="3"/>
<rect x="693" y="412" width="5" height="1"/>
<rect x="700" y="406" width="2" height="17"/>
<rect x="703" y="406" width="1" height="17"/>
<rect x="704" y="412" width="8" height="1"/>
<rect x="704" y="419" width="8" height="1"/>
<rect x="486" y="426" width="226" height="1"/>
<rect x="486" y="444" width="226" height="1"/>
<rect x="486" y="426" width="1" height="19"/>
<rect x="711" y="426" width="1" height="19"/>
<rect x="485" y="432" width="8" height="1"/>
<rect x="485" y="432" width="1" height="9"/>
<rect x="485" y="440" width="8" height="1"/>
<rect x="486" y="433" width="1" height="7" fill="#fff"/>
<rect x="492" y="426" width="1" height="16"/>
<rect x="494" y="426" width="3" height="17"/>
<rect x="497" y="426" width="7" height="1"/>
<rect x="503" y="426" width="1" height="6"/>
<rect x="503" y="431" width="3" height="1"/>
<rect x="505" y="431" width="1" height="10"/>
<rect x="497" y="440" width="9" height="1"/>
<rect x="497" y="430" width="2" height="1"/>
<rect x="498" y="430" width="1" height="3"/>
<rect x="498" y="432" width="6" height="1"/>
<rect x="511" y="428" width="174" height="7"/>
<rect x="510" y="434" width="176" height="7"/>
<rect x="511" y="435" width="1" height="5" fill="#fff"/>
<rect x="514" y="435" width="4" height="5" fill="#fff"/>
<rect x="515" y="429" width="1" height="4" fill="#fff"/>
<rect x="520" y="435" width="4" height="5" fill="#fff"/>
<rect x="521" y="429" width="1" height="4" fill="#fff"/>
<rect x="525" y="435" width="4" height="5" fill="#fff"/>
<rect x="526" y="429" width="1" height="4" fill="#fff"/>
<rect x="531" y="435" width="4" height="5" fill="#fff"/>
<rect x="532" y="429" width="1" height="4" fill="#fff"/>
<rect x="537" y="435" width="4" height="5" fill="#fff"/>
<rect x="538" y="429" width="1" height="4" fill="#fff"/>
<rect x="543" y="435" width="4" height="5" fill="#fff"/>
<rect x="544" y="429" width="1" height="4" fill="#fff"/>
<rect x="549" y="435" width="4" height="5" fill="#fff"/>
<rect x="550" y="429" width="1" height="4" fill="#fff"/>
<rect x="555" y="435" width="4" height="5" fill="#fff"/>
<rect x="556" y="429" width="1" height="4" fill="#fff"/>
<rect x="561" y="435" width="4" height="5" fill="#fff"/>
<rect x="562" y="429" width="1" height="4" fill="#fff"/>
<rect x="567" y="435" width="4" height="5" fill="#fff"/>
<rect x="568" y="429" width="1" height="4" fill="#fff"/>
<rect x="573" y="435" width="4" height="5" fill="#fff"/>
<rect x="574" y="429" width="1" height="4" fill="#fff"/>
<rect x="578" y="435" width="4" height="5" fill="#fff"/>
<rect x="579" y="429" width="1" height="4" fill="#fff"/>
<rect x="584" y="435" width="4" height="5" fill="#fff"/>
<rect x="585" y="429" width="1" height="4" fill="#fff"/>
<rect x="590" y="435" width="4" height="5" fill="#fff"/>
<rect x="591" y="429" width="1" height="4" fill="#fff"/>
<rect x="596" y="435" width="4" height="5" fill="#fff"/>
<rect x="597" y="429" width="1" height="4" fill="#fff"/>
<rect x="602" y="435" width="4" height="5" fill="#fff"/>
<rect x="603" y="429" width="1" height="4" fill="#fff"/>
<rect x="608" y="435" width="4" height="5" fill="#fff"/>
<rect x="609" y="429" width="1" height="4" fill="#fff"/>
<rect x="614" y="435" width="4" height="5" fill="#fff"/>
<rect x="615" y="429" width="1" height="4" fill="#fff"/>
<rect x="620" y="435" width="4" height="5" fill="#fff"/>
<rect x="621" y="429" width="1" height="4" fill="#fff"/>
<rect x="626" y="435" width="4" height="5" fill="#fff"/>
<rect x="627" y="429" width="1" height="4" fill="#fff"/>
<rect x="632" y="435" width="4" height="5" fill="#fff"/>
<rect x="633" y="429" width="1" height="4" fill="#fff"/>
<rect x="638" y="435" width="4" height="5" fill="#fff"/>
<rect x="639" y="429" width="1" height="4" fill="#fff"/>
<rect x="643" y="435" width="4" height="5" fill="#fff"/>
<rect x="644" y="429" width="1" height="4" fill="#fff"/>
<rect x="649" y="435" width="4" height="5" fill="#fff"/>
<rect x="650" y="429" width="1" height="4" fill="#fff"/>
<rect x="655" y="435" width="4" height="5" fill="#fff"/>
<rect x="656" y="429" width="1" height="4" fill="#fff"/>
<rect x="661" y="435" width="4" height="5" fill="#fff"/>
<rect x="662" y="429" width="1" height="4" fill="#fff"/>
<rect x="667" y="435" width="4" height="5" fill="#fff"/>
<rect x="668" y="429" width="1" height="4" fill="#fff"/>
<rect x="673" y="435" width="4" height="5" fill="#fff"/>
<rect x="674" y="429" width="1" height="4" fill="#fff"/>
<rect x="679" y="435" width="4" height="5" fill="#fff"/>
<rect x="680" y="429" width="1" height="4" fill="#fff"/>
<rect x="684" y="435" width="1" height="5" fill="#fff"/>
<rect x="519" y="435" width="5" height="5" fill="#fff"/>
<rect x="521" y="434" width="1" height="1" fill="#fff"/>
<rect x="521" y="440" width="1" height="1" fill="#fff"/>
<rect x="548" y="435" width="5" height="5" fill="#fff"/>
<rect x="550" y="434" width="1" height="1" fill="#fff"/>
<rect x="550" y="440" width="1" height="1" fill="#fff"/>
<rect x="678" y="435" width="5" height="5" fill="#fff"/>
<rect x="680" y="434" width="1" height="1" fill="#fff"/>
<rect x="680" y="440" width="1" height="1" fill="#fff"/>
<rect x="692" y="426" width="8" height="1"/>
<rect x="692" y="426" width="1" height="6"/>
<rect x="690" y="431" width="3" height="1"/>
<rect x="690" y="431" width="1" height="10"/>
<rect x="690" y="440" width="10" height="1"/>
<rect x="697" y="430" width="3" height="1"/>
<rect x="697" y="430" width="1" height="3"/>
<rect x="693" y="432" width="5" height="1"/>
<rect x="700" y="426" width="2" height="17"/>
<rect x="703" y="426" width="1" height="17"/>
<rect x="704" y="432" width="8" height="1"/>
<rect x="704" y="439" width="8" height="1"/>
<rect x="486" y="453" width="226" height="1"/>
<rect x="486" y="471" width="226" height="1"/>
<rect x="486" y="453" width="1" height="19"/>
<rect x="711" y="453" width="1" height="19"/>
<rect x="485" y="459" width="8" height="1"/>
<rect x="485" y="459" width="1" height="9"/>
<rect x="485" y="467" width="8" height="1"/>
<rect x="486" y="460" width="1" height="7" fill="#fff"/>
<rect x="492" y="453" width="1" height="16"/>
<rect x="494" y="453" width="3" height="17"/>
<rect x="497" y="453" width="7" height="1"/>
<rect x="503" y="453" width="1" height="6"/>
<rect x="503" y="458" width="3" height="1"/>
<rect x="505" y="458" width="1" height="10"/>
<rect x="497" y="467" width="9" height="1"/>
<rect x="497" y="457" width="2" height="1"/>
<rect x="498" y="457" width="1" height="3"/>
<rect x="498" y="459" width="6" height="1"/>
<rect x="511" y="455" width="174" height="7"/>
<rect x="510" y="461" width="176" height="7"/>
<rect x="511" y="462" width="1" height="5" fill="#fff"/>
<rect x="514" y="462" width="4" height="5" fill="#fff"/>
<rect x="515" y="456" width="1" height="4" fill="#fff"/>
<rect x="520" y="462" width="4" height="5" fill="#fff"/>
<rect x="521" y="456" width="1" height="4" fill="#fff"/>
<rect x="525" y="462" width="4" height="5" fill="#fff"/>
<rect x="526" y="456" width="1" height="4" fill="#fff"/>
<rect x="531" y="462" width="4" height="5" fill="#fff"/>
<rect x="532" y="456" width="1" height="4" fill="#fff"/>
<rect x="537" y="462" width="4" height="5" fill="#fff"/>
<rect x="538" y="456" width="1" height="4" fill="#fff"/>
<rect x="543" y="462" width="4" height="5" fill="#fff"/>
<rect x="544" y="456" width="1" height="4" fill="#fff"/>
<rect x="549" y="462" width="4" height="5" fill="#fff"/>
<rect x="550" y="456" width="1" height="4" fill="#fff"/>
<rect x="555" y="462" width="4" height="5" fill="#fff"/>
<rect x="556" y="456" width="1" height="4" fill="#fff"/>
<rect x="561" y="462" width="4" height="5" fill="#fff"/>
<rect x="562" y="456" width="1" height="4" fill="#fff"/>
<rect x="567" y="462" width="4" height="5" fill="#fff"/>
<rect x="568" y="456" width="1" height="4" fill="#fff"/>
<rect x="573" y="462" width="4" height="5" fill="#fff"/>
<rect x="574" y="456" width="1" height="4" fill="#fff"/>
<rect x="578" y="462" width="4" height="5" fill="#fff"/>
<rect x="579" y="456" width="1" height="4" fill="#fff"/>
<rect x="584" y="462" width="4" height="5" fill="#fff"/>
<rect x="585" y="456" width="1" height="4" fill="#fff"/>
<rect x="590" y="462" width="4" height="5" fill="#fff"/>
<rect x="591" y="456" width="1" height="4" fill="#fff"/>
<rect x="596" y="462" width="4" height="5" fill="#fff"/>
<rect x="597" y="456" width="1" height="4" fill="#fff"/>
<rect x="602" y="462" width="4" height="5" fill="#fff"/>
<rect x="603" y="456" width="1" height="4" fill="#fff"/>
<rect x="608" y="462" width="4" height="5" fill="#fff"/>
<rect x="609" y="456" width="1" height="4" fill="#fff"/>
<rect x="614" y="462" width="4" height="5" fill="#fff"/>
<rect x="615" y="456" width="1" height="4" fill="#fff"/>
<rect x="620" y="462" width="4" height="5" fill="#fff"/>
<rect x="621" y="456" width="1" height="4" fill="#fff"/>
<rect x="626" y="462" width="4" height="5" fill="#fff"/>
<rect x="627" y="456" width="1" height="4" fill="#fff"/>
<rect x="632" y="462" width="4" height="5" fill="#fff"/>
<rect x="633" y="456" width="1" height="4" fill="#fff"/>
<rect x="638" y="462" width="4" height="5" fill="#fff"/>
<rect x="639" y="456" width="1" height="4" fill="#fff"/>
<rect x="643" y="462" width="4" height="5" fill="#fff"/>
<rect x="644" y="456" width="1" height="4" fill="#fff"/>
<rect x="649" y="462" width="4" height="5" fill="#fff"/>
<rect x="650" y="456" width="1" height="4" fill="#fff"/>
<rect x="655" y="462" width="4" height="5" fill="#fff"/>
<rect x="656" y="456" width="1" height="4" fill="#fff"/>
<rect x="661" y="462" width="4" height="5" fill="#fff"/>
<rect x="662" y="456" width="1" height="4" fill="#fff"/>
<rect x="667" y="462" width="4" height="5" fill="#fff"/>
<rect x="668" y="456" width="1" height="4" fill="#fff"/>
<rect x="673" y="462" width="4" height="5" fill="#fff"/>
<rect x="674" y="456" width="1" height="4" fill="#fff"/>
<rect x="679" y="462" width="4" height="5" fill="#fff"/>
<rect x="680" y="456" width="1" height="4" fill="#fff"/>
<rect x="684" y="462" width="1" height="5" fill="#fff"/>
<rect x="519" y="462" width="5" height="5" fill="#fff"/>
<rect x="521" y="461" width="1" height="1" fill="#fff"/>
<rect x="521" y="467" width="1" height="1" fill="#fff"/>
<rect x="548" y="462" width="5" height="5" fill="#fff"/>
<rect x="550" y="461" width="1" height="1" fill="#fff"/>
<rect x="550" y="467" width="1" height="1" fill="#fff"/>
<rect x="678" y="462" width="5" height="5" fill="#fff"/>
<rect x="680" y="461" width="1" height="1" fill="#fff"/>
<rect x="680" y="467" width="1" height="1" fill="#fff"/>
<rect x="692" y="453" width="8" height="1"/>
<rect x="692" y="453" width="1" height="6"/>
<rect x="690" y="458" width="3" height="1"/>
<rect x="690" y="458" width="1" height="10"/>
<rect x="690" y="467" width="10" height="1"/>
<rect x="697" y="457" width="3" height="1"/>
<rect x="697" y="457" width="1" height="3"/>
<rect x="693" y="459" width="5" height="1"/>
<rect x="700" y="453" width="2" height="17"/>
<rect x="703" y="453" width="1" height="17"/>
<rect x="704" y="459" width="8" height="1"/>
<rect x="704" y="466" width="8" height="1"/>
<rect x="486" y="473" width="226" height="1"/>
<rect x="486" y="491" width="226" height="1"/>
<rect x="486" y="473" width="1" height="19"/>
<rect x="711" y="473" width="1" height="19"/>
<rect x="485" y="479" width="8" height="1"/>
<rect x="485" y="479" width="1" height="9"/>
<rect x="485" y="487" width="8" height="1"/>
<rect x="486" y="480" width="1" height="7" fill="#fff"/>
<rect x="492" y="473" width="1" height="16"/>
<rect x="494" y="473" width="3" height="17"/>
<rect x="497" y="473" width="7" height="1"/>
<rect x="503" y="473" width="1" height="6"/>
<rect x="503" y="478" width="3" height="1"/>
<rect x="505" y="478" width="1" height="10"/>
<rect x="497" y="487" width="9" height="1"/>
<rect x="497" y="477" width="2" height="1"/>
<rect x="498" y="477" width="1" height="3"/>
<rect x="498" y="479" width="6" height="1"/>
<rect x="511" y="475" width="174" height="7"/>
<rect x="510" y="481" width="176" height="7"/>
<rect x="511" y="482" width="1" height="5" fill="#fff"/>
<rect x="514" y="482" width="4" height="5" fill="#fff"/>
<rect x="515" y="476" width="1" height="4" fill="#fff"/>
<rect x="520" y="482" width="4" height="5" fill="#fff"/>
<rect x="521" y="476" width="1" height="4" fill="#fff"/>
<rect x="525" y="482" width="4" height="5" fill="#fff"/>
<rect x="526" y="476" width="1" height="4" fill="#fff"/>
<rect x="531" y="482" width="4" height="5" fill="#fff"/>
<rect x="532" y="476" width="1" height="4" fill="#fff"/>
<rect x="537" y="482" width="4" height="5" fill="#fff"/>
<rect x="538" y="476" width="1" height="4" fill="#fff"/>
<rect x="543" y="482" width="4" height="5" fill="#fff"/>
<rect x="544" y="476" width="1" height="4" fill="#fff"/>
<rect x="549" y="482" width="4" height="5" fill="#fff"/>
<rect x="550" y="476" width="1" height="4" fill="#fff"/>
<rect x="555" y="482" width="4" height="5" fill="#fff"/>
<rect x="556" y="476" width="1" height="4" fill="#fff"/>
<rect x="561" y="482" width="4" height="5" fill="#fff"/>
<rect x="562" y="476" width="1" height="4" fill="#fff"/>
<rect x="567" y="482" width="4" height="5" fill="#fff"/>
<rect x="568" y="476" width="1" height="4" fill="#fff"/>
<rect x="573" y="482" width="4" height="5" fill="#fff"/>
<rect x="574" y="476" width="1" height="4" fill="#fff"/>
<rect x="578" y="482" width="4" height="5" fill="#fff"/>
<rect x="579" y="476" width="1" height="4" fill="#fff"/>
<rect x="584" y="482" width="4" height="5" fill="#fff"/>
<rect x="585" y="476" width="1" height="4" fill="#fff"/>
<rect x="590" y="482" width="4" height="5" fill="#fff"/>
<rect x="591" y="476" width="1" height="4" fill="#fff"/>
<rect x="596" y="482" width="4" height="5" fill="#fff"/>
<rect x="597" y="476" width="1" height="4" fill="#fff"/>
<rect x="602" y="482" width="4" height="5" fill="#fff"/>
<rect x="603" y="476" width="1" height="4" fill="#fff"/>
<rect x="608" y="482" width="4" height="5" fill="#fff"/>
<rect x="609" y="476" width="1" height="4" fill="#fff"/>
<rect x="614" y="482" width="4" height="5" fill="#fff"/>
<rect x="615" y="476" width="1" height="4" fill="#fff"/>
<rect x="620" y="482" width="4" height="5" fill="#fff"/>
<rect x="621" y="476" width="1" height="4" fill="#fff"/>
<rect x="626" y="482" width="4" height="5" fill="#fff"/>
<rect x="627" y="476" width="1" height="4" fill="#fff"/>
<rect x="632" y="482" width="4" height="5" fill="#fff"/>
<rect x="633" y="476" width="1" height="4" fill="#fff"/>
<rect x="638" y="482" width="4" height="5" fill="#fff"/>
<rect x="639" y="476" width="1" height="4" fill="#fff"/>
<rect x="643" y="482" width="4" height="5" fill="#fff"/>
<rect x="644" y="476" width="1" height="4" fill="#fff"/>
<rect x="649" y="482" width="4" height="5" fill="#fff"/>
<rect x="650" y="476" width="1" height="4" fill="#fff"/>
<rect x="655" y="482" width="4" height="5" fill="#fff"/>
<rect x="656" y="476" width="1" height="4" fill="#fff"/>
<rect x="661" y="482" width="4" height="5" fill="#fff"/>
<rect x="662" y="476" width="1" height="4" fill="#fff"/>
<rect x="667" y="482" width="4" height="5" fill="#fff"/>
<rect x="668" y="476" width="1" height="4" fill="#fff"/>
<rect x="673" y="482" width="4" height="5" fill="#fff"/>
<rect x="674" y="476" width="1" height="4" fill="#fff"/>
<rect x="679" y="482" width="4" height="5" fill="#fff"/>
<rect x="680" y="476" width="1" height="4" fill="#fff"/>
<rect x="684" y="482" width="1" height="5" fill="#fff"/>
<rect x="519" y="482" width="5" height="5" fill="#fff"/>
<rect x="521" y="481" width="1" height="1" fill="#fff"/>
<rect x="521" y="487" width="1" height="1" fill="#fff"/>
<rect x="548" y="482" width="5" height="5" fill="#fff"/>
<rect x="550" y="481" width="1" height="1" fill="#fff"/>
<rect x="550" y="487" width="1" height="1" fill="#fff"/>
<rect x="678" y="482" width="5" height="5" fill="#fff"/>
<rect x="680" y="481" width="1" height="1" fill="#fff"/>
<rect x="680" y="487" width="1" height="1" fill="#fff"/>
<rect x="692" y="473" width="8" height="1"/>
<rect x="692" y="473" width="1" height="6"/>
<rect x="690" y="478" width="3" height="1"/>
<rect x="690" y="478" width="1" height="10"/>
<rect x="690" y="487" width="10" height="1"/>
<rect x="697" y="477" width="3" height="1"/>
<rect x="697" y="477" width="1" height="3"/>
<rect x="693" y="479" width="5" height="1"/>
<rect x="700" y="473" width="2" height="17"/>
<rect x="703" y="473" width="1" height="17"/>
<rect x="704" y="479" width="8" height="1"/>
<rect x="704" y="486" width="8" height="1"/>
<rect x="486" y="493" width="226" height="1"/>
<rect x="486" y="511" width="226" height="1"/>
<rect x="486" y="493" width="1" height="19"/>
<rect x="711" y="493" width="1" height="19"/>
<rect x="485" y="499" width="8" height="1"/>
<rect x="485" y="499" width="1" height="9"/>
<rect x="485" y="507" width="8" height="1"/>
<rect x="486" y="500" width="1" height="7" fill="#fff"/>
<rect x="492" y="493" width="1" height="16"/>
<rect x="494" y="493" width="3" height="17"/>
<rect x="497" y="493" width="7" height="1"/>
<rect x="503" y="493" width="1" height="6"/>
<rect x="503" y="498" width="3" height="1"/>
<rect x="505" y="498" width="1" height="10"/>
<rect x="497" y="507" width="9" height="1"/>
<rect x="497" y="497" width="2" height="1"/>
<rect x="498" y="497" width="1" height="3"/>
<rect x="498" y="499" width="6" height="1"/>
<rect x="511" y="495" width="174" height="7"/>
<rect x="510" y="501" width="176" height="7"/>
<rect x="511" y="502" width="1" height="5" fill="#fff"/>
<rect x="514" y="502" width="4" height="5" fill="#fff"/>
<rect x="515" y="496" width="1" height="4" fill="#fff"/>
<rect x="520" y="502" width="4" height="5" fill="#fff"/>
<rect x="521" y="496" width="1" height="4" fill="#fff"/>
<rect x="525" y="502" width="4" height="5" fill="#fff"/>
<rect x="526" y="496" width="1" height="4" fill="#fff"/>
<rect x="531" y="502" width="4" height="5" fill="#fff"/>
<rect x="532" y="496" width="1" height="4" fill="#fff"/>
<rect x="537" y="502" width="4" height="5" fill="#fff"/>
<rect x="538" y="496" width="1" height="4" fill="#fff"/>
<rect x="543" y="502" width="4" height="5" fill="#fff"/>
<rect x="544" y="496" width="1" height="4" fill="#fff"/>
<rect x="549" y="502" width="4" height="5" fill="#fff"/>
<rect x="550" y="496" width="1" height="4" fill="#fff"/>
<rect x="555" y="502" width="4" height="5" fill="#fff"/>
<rect x="556" y="496" width="1" height="4" fill="#fff"/>
<rect x="561" y="502" width="4" height="5" fill="#fff"/>
<rect x="562" y="496" width="1" height="4" fill="#fff"/>
<rect x="567" y="502" width="4" height="5" fill="#fff"/>
<rect x="568" y="496" width="1" height="4" fill="#fff"/>
<rect x="573" y="502" width="4" height="5" fill="#fff"/>
<rect x="574" y="496" width="1" height="4" fill="#fff"/>
<rect x="578" y="502" width="4" height="5" fill="#fff"/>
<rect x="579" y="496" width="1" height="4" fill="#fff"/>
<rect x="584" y="502" width="4" height="5" fill="#fff"/>
<rect x="585" y="496" width="1" height="4" fill="#fff"/>
<rect x="590" y="502" width="4" height="5" fill="#fff"/>
<rect x="591" y="496" width="1" height="4" fill="#fff"/>
<rect x="596" y="502" width="4" height="5" fill="#fff"/>
<rect x="597" y="496" width="1" height="4" fill="#fff"/>
<rect x="602" y="502" width="4" height="5" fill="#fff"/>
<rect x="603" y="496" width="1" height="4" fill="#fff"/>
<rect x="608" y="502" width="4" height="5" fill="#fff"/>
<rect x="609" y="496" width="1" height="4" fill="#fff"/>
<rect x="614" y="502" width="4" height="5" fill="#fff"/>
<rect x="615" y="496" width="1" height="4" fill="#fff"/>
<rect x="620" y="502" width="4" height="5" fill="#fff"/>
<rect x="621" y="496" width="1" height="4" fill="#fff"/>
<rect x="626" y="502" width="4" height="5" fill="#fff"/>
<rect x="627" y="496" width="1" height="4" fill="#fff"/>
<rect x="632" y="502" width="4" height="5" fill="#fff"/>
<rect x="633" y="496" width="1" height="4" fill="#fff"/>
<rect x="638" y="502" width="4" height="5" fill="#fff"/>
<rect x="639" y="496" width="1" height="4" fill="#fff"/>
<rect x="643" y="502" width="4" height="5" fill="#fff"/>
<rect x="644" y="496" width="1" height="4" fill="#fff"/>
<rect x="649" y="502" width="4" height="5" fill="#fff"/>
<rect x="650" y="496" width="1" height="4" fill="#fff"/>
<rect x="655" y="502" width="4" height="5" fill="#fff"/>
<rect x="656" y="496" width="1" height="4" fill="#fff"/>
<rect x="661" y="502" width="4" height="5" fill="#fff"/>
<rect x="662" y="496" width="1" height="4" fill="#fff"/>
<rect x="667" y="502" width="4" height="5" fill="#fff"/>
<rect x="668" y="496" width="1" height="4" fill="#fff"/>
<rect x="673" y="502" width="4" height="5" fill="#fff"/>
<rect x="674" y="496" width="1" height="4" fill="#fff"/>
<rect x="679" y="502" width="4" height="5" fill="#fff"/>
<rect x="680" y="496" width="1" height="4" fill="#fff"/>
<rect x="684" y="502" width="1" height="5" fill="#fff"/>
<rect x="519" y="502" width="5" height="5" fill="#fff"/>
<rect x="521" y="501" width="1" height="1" fill="#fff"/>
<rect x="521" y="507" width="1" height="1" fill="#fff"/>
<rect x="548" y="502" width="5" height="5" fill="#fff"/>
<rect x="550" y="501" width="1" height="1" fill="#fff"/>
<rect x="550" y="507" width="1" height="1" fill="#fff"/>
<rect x="678" y="502" width="5" height="5" fill="#fff"/>
<rect x="680" y="501" width="1" height="1" fill="#fff"/>
<rect x="680" y="507" width="1" height="1" fill="#fff"/>
<rect x="692" y="493" width="8" height="1"/>
<rect x="692" y="493" width="1" height="6"/>
<rect x="690" y="498" width="3" height="1"/>
<rect x="690" y="498" width="1" height="10"/>
<rect x="690" y="507" width="10" height="1"/>
<rect x="697" y="497" width="3" height="1"/>
<rect x="697" y="497" width="1" height="3"/>
<rect x="693" y="499" width="5" height="1"/>
<rect x="700" y="493" width="2" height="17"/>
<rect x="703" y="493" width="1" height="17"/>
<rect x="704" y="499" width="8" height="1"/>
<rect x="704" y="506" width="8" height="1"/>
<rect x="486" y="513" width="226" height="1"/>
<rect x="486" y="531" width="226" height="1"/>
<rect x="486" y="513" width="1" height="19"/>
<rect x="711" y="513" width="1" height="19"/>
<rect x="485" y="519" width="8" height="1"/>
<rect x="485" y="519" width="1" height="9"/>
<rect x="485" y="527" width="8" height="1"/>
<rect x="486" y="520" width="1" height="7" fill="#fff"/>
<rect x="492" y="513" width="1" height="16"/>
<rect x="494" y="513" width="3" height="17"/>
<rect x="497" y="513" width="7" height="1"/>
<rect x="503" y="513" width="1" height="6"/>
<rect x="503" y="518" width="3" height="1"/>
<rect x="505" y="518" width="1" height="10"/>
<rect x="497" y="527" width="9" height="1"/>
<rect x="497" y="517" width="2" height="1"/>
<rect x="498" y="517" width="1" height="3"/>
<rect x="498" y="519" width="6" height="1"/>
<rect x="511" y="515" width="174" height="7"/>
<rect x="510" y="521" width="176" height="7"/>
<rect x="511" y="522" width="1" height="5" fill="#fff"/>
<rect x="514" y="522" width="4" height="5" fill="#fff"/>
<rect x="515" y="516" width="1" height="4" fill="#fff"/>
<rect x="520" y="522" width="4" height="5" fill="#fff"/>
<rect x="521" y="516" width="1" height="4" fill="#fff"/>
<rect x="525" y="522" width="4" height="5" fill="#fff"/>
<rect x="526" y="516" width="1" height="4" fill="#fff"/>
<rect x="531" y="522" width="4" height="5" fill="#fff"/>
<rect x="532" y="516" width="1" height="4" fill="#fff"/>
<rect x="537" y="522" width="4" height="5" fill="#fff"/>
<rect x="538" y="516" width="1" height="4" fill="#fff"/>
<rect x="543" y="522" width="4" height="5" fill="#fff"/>
<rect x="544" y="516" width="1" height="4" fill="#fff"/>
<rect x="549" y="522" width="4" height="5" fill="#fff"/>
<rect x="550" y="516" width="1" height="4" fill="#fff"/>
<rect x="555" y="522" width="4" height="5" fill="#fff"/>
<rect x="556" y="516" width="1" height="4" fill="#fff"/>
<rect x="561" y="522" width="4" height="5" fill="#fff"/>
<rect x="562" y="516" width="1" height="4" fill="#fff"/>
<rect x="567" y="522" width="4" height="5" fill="#fff"/>
<rect x="568" y="516" width="1" height="4" fill="#fff"/>
<rect x="573" y="522" width="4" height="5" fill="#fff"/>
<rect x="574" y="516" width="1" height="4" fill="#fff"/>
<rect x="578" y="522" width="4" height="5" fill="#fff"/>
<rect x="579" y="516" width="1" height="4" fill="#fff"/>
<rect x="584" y="522" width="4" height="5" fill="#fff"/>
<rect x="585" y="516" width="1" height="4" fill="#fff"/>
<rect x="590" y="522" width="4" height="5" fill="#fff"/>
<rect x="591" y="516" width="1" height="4" fill="#fff"/>
<rect x="596" y="522" width="4" height="5" fill="#fff"/>
<rect x="597" y="516" width="1" height="4" fill="#fff"/>
<rect x="602" y="522" width="4" height="5" fill="#fff"/>
<rect x="603" y="516" width="1" height="4" fill="#fff"/>
<rect x="608" y="522" width="4" height="5" fill="#fff"/>
<rect x="609" y="516" width="1" height="4" fill="#fff"/>
<rect x="614" y="522" width="4" height="5" fill="#fff"/>
<rect x="615" y="516" width="1" height="4" fill="#fff"/>
<rect x="620" y="522" width="4" height="5" fill="#fff"/>
<rect x="621" y="516" width="1" height="4" fill="#fff"/>
<rect x="626" y="522" width="4" height="5" fill="#fff"/>
<rect x="627" y="516" width="1" height="4" fill="#fff"/>
<rect x="632" y="522" width="4" height="5" fill="#fff"/>
<rect x="633" y="516" width="1" height="4" fill="#fff"/>
<rect x="638" y="522" width="4" height="5" fill="#fff"/>
<rect x="639" y="516" width="1" height="4" fill="#fff"/>
<rect x="643" y="522" width="4" height="5" fill="#fff"/>
<rect x="644" y="516" width="1" height="4" fill="#fff"/>
<rect x="649" y="522" width="4" height="5" fill="#fff"/>
<rect x="650" y="516" width="1" height="4" fill="#fff"/>
<rect x="655" y="522" width="4" height="5" fill="#fff"/>
<rect x="656" y="516" width="1" height="4" fill="#fff"/>
<rect x="661" y="522" width="4" height="5" fill="#fff"/>
<rect x="662" y="516" width="1" height="4" fill="#fff"/>
<rect x="667" y="522" width="4" height="5" fill="#fff"/>
<rect x="668" y="516" width="1" height="4" fill="#fff"/>
<rect x="673" y="522" width="4" height="5" fill="#fff"/>
<rect x="674" y="516" width="1" height="4" fill="#fff"/>
<rect x="679" y="522" width="4" height="5" fill="#fff"/>
<rect x="680" y="516" width="1" height="4" fill="#fff"/>
<rect x="684" y="522" width="1" height="5" fill="#fff"/>
<rect x="519" y="522" width="5" height="5" fill="#fff"/>
<rect x="521" y="521" width="1" height="1" fill="#fff"/>
<rect x="521" y="527" width="1" height="1" fill="#fff"/>
<rect x="548" y="522" width="5" height="5" fill="#fff"/>
<rect x="550" y="521" width="1" height="1" fill="#fff"/>
<rect x="550" y="527" width="1" height="1" fill="#fff"/>
<rect x="678" y="522" width="5" height="5" fill="#fff"/>
<rect x="680" y="521" width="1" height="1" fill="#fff"/>
<rect x="680" y="527" width="1" height="1" fill="#fff"/>
<rect x="692" y="513" width="8" height="1"/>
<rect x="692" y="513" width="1" height="6"/>
<rect x="690" y="518" width="3" height="1"/>
<rect x="690" y="518" width="1" height="10"/>
<rect x="690" y="527" width="10" height="1"/>
<rect x="697" y="517" width="3" height="1"/>
<rect x="697" y="517" width="1" height="3"/>
<rect x="693" y="519" width="5" height="1"/>
<rect x="700" y="513" width="2" height="17"/>
<rect x="703" y="513" width="1" height="17"/>
<rect x="704" y="519" width="8" height="1"/>
<rect x="704" y="526" width="8" height="1"/>
<rect x="569" y="398" width="60" height="18" rx="2"/>
<rect x="571" y="399.5" width="55" height="14.5" rx="1" fill="#fff"/>
<rect x="571" y="484" width="60" height="18" rx="2"/>
<rect x="573" y="485.5" width="55" height="14.5" rx="1" fill="#fff"/>
<rect x="400" y="394" width="65" height="147"/>
<rect x="402" y="396" width="3" height="5" fill="#fff"/>
<rect x="402" y="412" width="3" height="5" fill="#fff"/>
<rect x="408" y="396" width="3" height="5" fill="#fff"/>
<rect x="408" y="412" width="3" height="5" fill="#fff"/>
<rect x="413" y="396" width="4" height="5" fill="#fff"/>
<rect x="413" y="412" width="4" height="5" fill="#fff"/>
<rect x="419" y="396" width="3" height="5" fill="#fff"/>
<rect x="419" y="412" width="3" height="5" fill="#fff"/>
<rect x="425" y="396" width="3" height="5" fill="#fff"/>
<rect x="425" y="412" width="3" height="5" fill="#fff"/>
<rect x="430" y="396" width="3" height="5" fill="#fff"/>
<rect x="430" y="412" width="3" height="5" fill="#fff"/>
<rect x="436" y="396" width="3" height="5" fill="#fff"/>
<rect x="436" y="412" width="3" height="5" fill="#fff"/>
<rect x="442" y="396" width="3" height="5" fill="#fff"/>
<rect x="442" y="412" width="3" height="5" fill="#fff"/>
<rect x="448" y="396" width="3" height="5" fill="#fff"/>
<rect x="448" y="412" width="3" height="5" fill="#fff"/>
<rect x="454" y="396" width="3" height="5" fill="#fff"/>
<rect x="454" y="412" width="3" height="5" fill="#fff"/>
<rect x="459" y="396" width="4" height="5" fill="#fff"/>
<rect x="459" y="412" width="4" height="5" fill="#fff"/>
<rect x="404" y="404" width="26" height="5" fill="#fff"/>
<rect x="434" y="404" width="24" height="5" fill="#fff"/>
<path d="M465 405 h-2 v1 h-1 v2 h1 v1 h2 Z" fill="#fff"/>
<rect x="402" y="420" width="3" height="5" fill="#fff"/>
<rect x="402" y="436" width="3" height="5" fill="#fff"/>
<rect x="408" y="420" width="3" height="5" fill="#fff"/>
<rect x="408" y="436" width="3" height="5" fill="#fff"/>
<rect x="413" y="420" width="4" height="5" fill="#fff"/>
<rect x="413" y="436" width="4" height="5" fill="#fff"/>
<rect x="419" y="420" width="3" height="5" fill="#fff"/>
<rect x="419" y="436" width="3" height="5" fill="#fff"/>
<rect x="425" y="420" width="3" height="5" fill="#fff"/>
<rect x="425" y="436" width="3" height="5" fill="#fff"/>
<rect x="430" y="420" width="3" height="5" fill="#fff"/>
<rect x="430" y="436" width="3" height="5" fill="#fff"/>
<rect x="436" y="420" width="3" height="5" fill="#fff"/>
<rect x="436" y="436" width="3" height="5" fill="#fff"/>
<rect x="442" y="420" width="3" height="5" fill="#fff"/>
<rect x="442" y="436" width="3" height="5" fill="#fff"/>
<rect x="448" y="420" width="3" height="5" fill="#fff"/>
<rect x="448" y="436" width="3" height="5" fill="#fff"/>
<rect x="454" y="420" width="3" height="5" fill="#fff"/>
<rect x="454" y="436" width="3" height="5" fill="#fff"/>
<rect x="459" y="420" width="4" height="5" fill="#fff"/>
<rect x="459" y="436" width="4" height="5" fill="#fff"/>
<rect x="404" y="428" width="26" height="5" fill="#fff"/>
<rect x="434" y="428" width="24" height="5" fill="#fff"/>
<path d="M465 429 h-2 v1 h-1 v2 h1 v1 h2 Z" fill="#fff"/>
<rect x="402" y="445" width="3" height="5" fill="#fff"/>
<rect x="402" y="461" width="3" height="5" fill="#fff"/>
<rect x="408" y="445" width="3" height="5" fill="#fff"/>
<rect x="408" y="461" width="3" height="5" fill="#fff"/>
<rect x="413" y="445" width="4" height="5" fill="#fff"/>
<rect x="413" y="461" width="4" height="5" fill="#fff"/>
<rect x="419" y="445" width="3" height="5" fill="#fff"/>
<rect x="419" y="461" width="3" height="5" fill="#fff"/>
<rect x="425" y="445" width="3" height="5" fill="#fff"/>
<rect x="425" y="461" width="3" height="5" fill="#fff"/>
<rect x="430" y="445" width="3" height="5" fill="#fff"/>
<rect x="430" y="461" width="3" height="5" fill="#fff"/>
<rect x="436" y="445" width="3" height="5" fill="#fff"/>
<rect x="436" y="461" width="3" height="5" fill="#fff"/>
<rect x="442" y="445" width="3" height="5" fill="#fff"/>
<rect x="442" y="461" width="3" height="5" fill="#fff"/>
<rect x="448" y="445" width="3" height="5" fill="#fff"/>
<rect x="448" y="461" width="3" height="5" fill="#fff"/>
<rect x="454" y="445" width="3" height="5" fill="#fff"/>
<rect x="454" y="461" width="3" height="5" fill="#fff"/>
<rect x="459" y="445" width="4" height="5" fill="#fff"/>
<rect x="459" y="461" width="4" height="5" fill="#fff"/>
<rect x="404" y="453" width="26" height="5" fill="#fff"/>
<rect x="434" y="453" width="24" height="5" fill="#fff"/>
<path d="M465 454 h-2 v1 h-1 v2 h1 v1 h2 Z" fill="#fff"/>
<rect x="402" y="469" width="3" height="5" fill="#fff"/>
<rect x="402" y="485" width="3" height="5" fill="#fff"/>
<rect x="408" y="469" width="3" height="5" fill="#fff"/>
<rect x="408" y="485" width="3" height="5" fill="#fff"/>
<rect x="413" y="469" width="4" height="5" fill="#fff"/>
<rect x="413" y="485" width="4" height="5" fill="#fff"/>
<rect x="419" y="469" width="3" height="5" fill="#fff"/>
<rect x="419" y="485" width="3" height="5" fill="#fff"/>
<rect x="425" y="469" width="3" height="5" fill="#fff"/>
<rect x="425" y="485" width="3" height="5" fill="#fff"/>
<rect x="430" y="469" width="3" height="5" fill="#fff"/>
<rect x="430" y="485" width="3" height="5" fill="#fff"/>
<rect x="436" y="469" width="3" height="5" fill="#fff"/>
<rect x="436" y="485" width="3" height="5" fill="#fff"/>
<rect x="442" y="469" width="3" height="5" fill="#fff"/>
<rect x="442" y="485" width="3" height="5" fill="#fff"/>
<rect x="448" y="469" width="3" height="5" fill="#fff"/>
<rect x="448" y="485" width="3" height="5" fill="#fff"/>
<rect x="454" y="469" width="3" height="5" fill="#fff"/>
<rect x="454" y="485" width="3" height="5" fill="#fff"/>
<rect x="459" y="469" width="4" height="5" fill="#fff"/>
<rect x="459" y="485" width="4" height="5" fill="#fff"/>
<rect x="404" y="477" width="26" height="5" fill="#fff"/>
<rect x="434" y="477" width="24" height="5" fill="#fff"/>
<path d="M465 478 h-2 v1 h-1 v2 h1 v1 h2 Z" fill="#fff"/>
<rect x="402" y="494" width="3" height="5" fill="#fff"/>
<rect x="402" y="510" width="3" height="5" fill="#fff"/>
<rect x="408" y="494" width="3" height="5" fill="#fff"/>
<rect x="408" y="510" width="3" height="5" fill="#fff"/>
<rect x="413" y="494" width="4" height="5" fill="#fff"/>
<rect x="413" y="510" width="4" height="5" fill="#fff"/>
<rect x="419" y="494" width="3" height="5" fill="#fff"/>
<rect x="419" y="510" width="3" height="5" fill="#fff"/>
<rect x="425" y="494" width="3" height="5" fill="#fff"/>
<rect x="425" y="510" width="3" height="5" fill="#fff"/>
<rect x="430" y="494" width="3" height="5" fill="#fff"/>
<rect x="430" y="510" width="3" height="5" fill="#fff"/>
<rect x="436" y="494" width="3" height="5" fill="#fff"/>
<rect x="436" y="510" width="3" height="5" fill="#fff"/>
<rect x="442" y="494" width="3" height="5" fill="#fff"/>
<rect x="442" y="510" width="3" height="5" fill="#fff"/>
<rect x="448" y="494" width="3" height="5" fill="#fff"/>
<rect x="448" y="510" width="3" height="5" fill="#fff"/>
<rect x="454" y="494" width="3" height="5" fill="#fff"/>
<rect x="454" y="510" width="3" height="5" fill="#fff"/>
<rect x="459" y="494" width="4" height="5" fill="#fff"/>
<rect x="459" y="510" width="4" height="5" fill="#fff"/>
<rect x="404" y="502" width="26" height="5" fill="#fff"/>
<rect x="434" y="502" width="24" height="5" fill="#fff"/>
<path d="M465 503 h-2 v1 h-1 v2 h1 v1 h2 Z" fill="#fff"/>
<rect x="402" y="518" width="3" height="5" fill="#fff"/>
<rect x="402" y="534" width="3" height="5" fill="#fff"/>
<rect x="408" y="518" width="3" height="5" fill="#fff"/>
<rect x="408" y="534" width="3" height="5" fill="#fff"/>
<rect x="413" y="518" width="4" height="5" fill="#fff"/>
<rect x="413" y="534" width="4" height="5" fill="#fff"/>
<rect x="419" y="518" width="3" height="5" fill="#fff"/>
<rect x="419" y="534" width="3" height="5" fill="#fff"/>
<rect x="425" y="518" width="3" height="5" fill="#fff"/>
<rect x="425" y="534" width="3" height="5" fill="#fff"/>
<rect x="430" y="518" width="3" height="5" fill="#fff"/>
<rect x="430" y="534" width="3" height="5" fill="#fff"/>
<rect x="436" y="518" width="3" height="5" fill="#fff"/>
<rect x="436" y="534" width="3" height="5" fill="#fff"/>
<rect x="442" y="518" width="3" height="5" fill="#fff"/>
<rect x="442" y="534" width="3" height="5" fill="#fff"/>
<rect x="448" y="518" width="3" height="5" fill="#fff"/>
<rect x="448" y="534" width="3" height="5" fill="#fff"/>
<rect x="454" y="518" width="3" height="5" fill="#fff"/>
<rect x="454" y="534" width="3" height="5" fill="#fff"/>
<rect x="459" y="518" width="4" height="5" fill="#fff"/>
<rect x="459" y="534" width="4" height="5" fill="#fff"/>
<rect x="404" y="526" width="26" height="5" fill="#fff"/>
<rect x="434" y="526" width="24" height="5" fill="#fff"/>
<path d="M465 527 h-2 v1 h-1 v2 h1 v1 h2 Z" fill="#fff"/>
<rect x="400" y="549" width="65" height="50"/>
<rect x="402" y="551" width="3" height="5" fill="#fff"/>
<rect x="402" y="567" width="3" height="5" fill="#fff"/>
<rect x="408" y="551" width="3" height="5" fill="#fff"/>
<rect x="408" y="567" width="3" height="5" fill="#fff"/>
<rect x="413" y="551" width="4" height="5" fill="#fff"/>
<rect x="413" y="567" width="4" height="5" fill="#fff"/>
<rect x="419" y="551" width="3" height="5" fill="#fff"/>
<rect x="419" y="567" width="3" height="5" fill="#fff"/>
<rect x="425" y="551" width="3" height="5" fill="#fff"/>
<rect x="425" y="567" width="3" height="5" fill="#fff"/>
<rect x="430" y="551" width="3" height="5" fill="#fff"/>
<rect x="430" y="567" width="3" height="5" fill="#fff"/>
<rect x="436" y="551" width="3" height="5" fill="#fff"/>
<rect x="436" y="567" width="3" height="5" fill="#fff"/>
<rect x="442" y="551" width="3" height="5" fill="#fff"/>
<rect x="442" y="567" width="3" height="5" fill="#fff"/>
<rect x="448" y="551" width="3" height="5" fill="#fff"/>
<rect x="448" y="567" width="3" height="5" fill="#fff"/>
<rect x="454" y="551" width="3" height="5" fill="#fff"/>
<rect x="454" y="567" width="3" height="5" fill="#fff"/>
<rect x="459" y="551" width="4" height="5" fill="#fff"/>
<rect x="459" y="567" width="4" height="5" fill="#fff"/>
<rect x="404" y="559" width="26" height="5" fill="#fff"/>
<rect x="434" y="559" width="24" height="5" fill="#fff"/>
<path d="M465 560 h-2 v1 h-1 v2 h1 v1 h2 Z" fill="#fff"/>
<rect x="402" y="576" width="3" height="5" fill="#fff"/>
<rect x="402" y="592" width="3" height="5" fill="#fff"/>
<rect x="408" y="576" width="3" height="5" fill="#fff"/>
<rect x="408" y="592" width="3" height="5" fill="#fff"/>
<rect x="413" y="576" width="4" height="5" fill="#fff"/>
<rect x="413" y="592" width="4" height="5" fill="#fff"/>
<rect x="419" y="576" width="3" height="5" fill="#fff"/>
<rect x="419" y="592" width="3" height="5" fill="#fff"/>
<rect x="425" y="576" width="3" height="5" fill="#fff"/>
<rect x="425" y="592" width="3" height="5" fill="#fff"/>
<rect x="430" y="576" width="3" height="5" fill="#fff"/>
<rect x="430" y="592" width="3" height="5" fill="#fff"/>
<rect x="436" y="576" width="3" height="5" fill="#fff"/>
<rect x="436" y="592" width="3" height="5" fill="#fff"/>
<rect x="442" y="576" width="3" height="5" fill="#fff"/>
<rect x="442" y="592" width="3" height="5" fill="#fff"/>
<rect x="448" y="576" width="3" height="5" fill="#fff"/>
<rect x="448" y="592" width="3" height="5" fill="#fff"/>
<rect x="454" y="576" width="3" height="5" fill="#fff"/>
<rect x="454" y="592" width="3" height="5" fill="#fff"/>
<rect x="459" y="576" width="4" height="5" fill="#fff"/>
<rect x="459" y="592" width="4" height="5" fill="#fff"/>
<rect x="404" y="584" width="26" height="5" fill="#fff"/>
<rect x="434" y="584" width="24" height="5" fill="#fff"/>
<path d="M465 585 h-2 v1 h-1 v2 h1 v1 h2 Z" fill="#fff"/>
<rect x="405" y="459" width="54" height="17"/>
<rect x="410" y="460" width="46" height="15" rx="2" fill="#fff"/>
<rect x="387" y="464" width="7" height="14"/>
<rect x="388" y="465" width="5" height="1" fill="#fff"/>
<rect x="388" y="470" width="5" height="2" fill="#fff"/>
<rect x="388" y="476" width="5" height="1" fill="#fff"/>
<rect x="344" y="447" width="35" height="19" rx="3.5" ry="3.5"/>
<rect x="346" y="449" width="30" height="15" rx="2.0" ry="2.0" fill="#fff"/>
<path d="M378.4 462.5 L384.5 472.3 L375.3 464.8" fill="#fff" stroke="#000" stroke-width="1.8" stroke-linejoin="bevel" shape-rendering="auto"/>
<path d="M380.23 465.44 L384.5 472.3 L378.06 467.05 Z" shape-rendering="auto"/>
<path d="M545 587 H614 V661 H539 V593 Z"/>
<circle cx="547.5" cy="594.2" r="3.6" fill="#fff" shape-rendering="auto"/>
<rect x="563" y="617" width="28" height="14" fill="#fff"/>
<path d="M650 590 H729 V671 H652 L650 669 Z"/>
<path d="M653 593 h2 v1 h1 v2 h-1 v1 h-2 v-1 h-1 v-2 h1 Z" fill="#fff"/>
<path d="M658 594 h1 v-1 h2 v4 h-2 v-1 h-1 Z" fill="#fff"/>
<path d="M665 593 h2 v1 h1 v2 h-1 v1 h-2 v-1 h-1 v-2 h1 Z" fill="#fff"/>
<path d="M670 594 h1 v-1 h2 v4 h-2 v-1 h-1 Z" fill="#fff"/>
<path d="M677 593 h2 v1 h1 v2 h-1 v1 h-2 v-1 h-1 v-2 h1 Z" fill="#fff"/>
<path d="M682 594 h1 v-1 h2 v4 h-2 v-1 h-1 Z" fill="#fff"/>
<path d="M688 593 h2 v1 h1 v2 h-1 v1 h-2 v-1 h-1 v-2 h1 Z" fill="#fff"/>
<path d="M694 594 h1 v-1 h2 v4 h-2 v-1 h-1 Z" fill="#fff"/>
<path d="M700 593 h2 v1 h1 v2 h-1 v1 h-2 v-1 h-1 v-2 h1 Z" fill="#fff"/>
<path d="M705 594 h1 v-1 h2 v4 h-2 v-1 h-1 Z" fill="#fff"/>
<path d="M712 593 h2 v1 h1 v2 h-1 v1 h-2 v-1 h-1 v-2 h1 Z" fill="#fff"/>
<path d="M717 594 h1 v-1 h2 v4 h-2 v-1 h-1 Z" fill="#fff"/>
<path d="M723 593 h2 v1 h1 v2 h-1 v1 h-2 v-1 h-1 v-2 h1 Z" fill="#fff"/>
<path d="M652 600 h1 v-1 h2 v4 h-2 v-1 h-1 Z" fill="#fff"/>
<path d="M659 599 h2 v1 h1 v2 h-1 v1 h-2 v-1 h-1 v-2 h1 Z" fill="#fff"/>
<path d="M664 600 h1 v-1 h2 v4 h-2 v-1 h-1 Z" fill="#fff"/>
<path d="M671 599 h2 v1 h1 v2 h-1 v1 h-2 v-1 h-1 v-2 h1 Z" fill="#fff"/>
<path d="M676 600 h1 v-1 h2 v4 h-2 v-1 h-1 Z" fill="#fff"/>
<path d="M682 599 h2 v1 h1 v2 h-1 v1 h-2 v-1 h-1 v-2 h1 Z" fill="#fff"/>
<path d="M688 600 h1 v-1 h2 v4 h-2 v-1 h-1 Z" fill="#fff"/>
<path d="M694 599 h2 v1 h1 v2 h-1 v1 h-2 v-1 h-1 v-2 h1 Z" fill="#fff"/>
<path d="M700 600 h1 v-1 h2 v4 h-2 v-1 h-1 Z" fill="#fff"/>
<path d="M706 599 h2 v1 h1 v2 h-1 v1 h-2 v-1 h-1 v-2 h1 Z" fill="#fff"/>
<path d="M711 600 h1 v-1 h2 v4 h-2 v-1 h-1 Z" fill="#fff"/>
<path d="M718 599 h2 v1 h1 v2 h-1 v1 h-2 v-1 h-1 v-2 h1 Z" fill="#fff"/>
<path d="M723 600 h1 v-1 h2 v4 h-2 v-1 h-1 Z" fill="#fff"/>
<path d="M653 605 h2 v1 h1 v2 h-1 v1 h-2 v-1 h-1 v-2 h1 Z" fill="#fff"/>
<path d="M658 606 h1 v-1 h2 v4 h-2 v-1 h-1 Z" fill="#fff"/>
<path d="M665 605 h2 v1 h1 v2 h-1 v1 h-2 v-1 h-1 v-2 h1 Z" fill="#fff"/>
<path d="M670 606 h1 v-1 h2 v4 h-2 v-1 h-1 Z" fill="#fff"/>
<path d="M677 605 h2 v1 h1 v2 h-1 v1 h-2 v-1 h-1 v-2 h1 Z" fill="#fff"/>
<path d="M682 606 h1 v-1 h2 v4 h-2 v-1 h-1 Z" fill="#fff"/>
<path d="M688 605 h2 v1 h1 v2 h-1 v1 h-2 v-1 h-1 v-2 h1 Z" fill="#fff"/>
<path d="M694 606 h1 v-1 h2 v4 h-2 v-1 h-1 Z" fill="#fff"/>
<path d="M700 605 h2 v1 h1 v2 h-1 v1 h-2 v-1 h-1 v-2 h1 Z" fill="#fff"/>
<path d="M705 606 h1 v-1 h2 v4 h-2 v-1 h-1 Z" fill="#fff"/>
<path d="M712 605 h2 v1 h1 v2 h-1 v1 h-2 v-1 h-1 v-2 h1 Z" fill="#fff"/>
<path d="M717 606 h1 v-1 h2 v4 h-2 v-1 h-1 Z" fill="#fff"/>
<path d="M723 605 h2 v1 h1 v2 h-1 v1 h-2 v-1 h-1 v-2 h1 Z" fill="#fff"/>
<path d="M652 612 h1 v-1 h2 v4 h-2 v-1 h-1 Z" fill="#fff"/>
<path d="M659 611 h2 v1 h1 v2 h-1 v1 h-2 v-1 h-1 v-2 h1 Z" fill="#fff"/>
<path d="M664 612 h1 v-1 h2 v4 h-2 v-1 h-1 Z" fill="#fff"/>
<path d="M711 612 h1 v-1 h2 v4 h-2 v-1 h-1 Z" fill="#fff"/>
<path d="M718 611 h2 v1 h1 v2 h-1 v1 h-2 v-1 h-1 v-2 h1 Z" fill="#fff"/>
<path d="M723 612 h1 v-1 h2 v4 h-2 v-1 h-1 Z" fill="#fff"/>
<path d="M653 617 h2 v1 h1 v2 h-1 v1 h-2 v-1 h-1 v-2 h1 Z" fill="#fff"/>
<path d="M658 618 h1 v-1 h2 v4 h-2 v-1 h-1 Z" fill="#fff"/>
<path d="M665 617 h2 v1 h1 v2 h-1 v1 h-2 v-1 h-1 v-2 h1 Z" fill="#fff"/>
<path d="M712 617 h2 v1 h1 v2 h-1 v1 h-2 v-1 h-1 v-2 h1 Z" fill="#fff"/>
<path d="M717 618 h1 v-1 h2 v4 h-2 v-1 h-1 Z" fill="#fff"/>
<path d="M723 617 h2 v1 h1 v2 h-1 v1 h-2 v-1 h-1 v-2 h1 Z" fill="#fff"/>
<path d="M652 624 h1 v-1 h2 v4 h-2 v-1 h-1 Z" fill="#fff"/>
<path d="M659 623 h2 v1 h1 v2 h-1 v1 h-2 v-1 h-1 v-2 h1 Z" fill="#fff"/>
<path d="M664 624 h1 v-1 h2 v4 h-2 v-1 h-1 Z" fill="#fff"/>
<path d="M711 624 h1 v-1 h2 v4 h-2 v-1 h-1 Z" fill="#fff"/>
<path d="M718 623 h2 v1 h1 v2 h-1 v1 h-2 v-1 h-1 v-2 h1 Z" fill="#fff"/>
<path d="M723 624 h1 v-1 h2 v4 h-2 v-1 h-1 Z" fill="#fff"/>
<path d="M653 629 h2 v1 h1 v2 h-1 v1 h-2 v-1 h-1 v-2 h1 Z" fill="#fff"/>
<path d="M658 630 h1 v-1 h2 v4 h-2 v-1 h-1 Z" fill="#fff"/>
<path d="M665 629 h2 v1 h1 v2 h-1 v1 h-2 v-1 h-1 v-2 h1 Z" fill="#fff"/>
<path d="M712 629 h2 v1 h1 v2 h-1 v1 h-2 v-1 h-1 v-2 h1 Z" fill="#fff"/>
<path d="M717 630 h1 v-1 h2 v4 h-2 v-1 h-1 Z" fill="#fff"/>
<path d="M723 629 h2 v1 h1 v2 h-1 v1 h-2 v-1 h-1 v-2 h1 Z" fill="#fff"/>
<path d="M652 635 h1 v-1 h2 v4 h-2 v-1 h-1 Z" fill="#fff"/>
<path d="M659 634 h2 v1 h1 v2 h-1 v1 h-2 v-1 h-1 v-2 h1 Z" fill="#fff"/>
<path d="M664 635 h1 v-1 h2 v4 h-2 v-1 h-1 Z" fill="#fff"/>
<path d="M711 635 h1 v-1 h2 v4 h-2 v-1 h-1 Z" fill="#fff"/>
<path d="M718 634 h2 v1 h1 v2 h-1 v1 h-2 v-1 h-1 v-2 h1 Z" fill="#fff"/>
<path d="M723 635 h1 v-1 h2 v4 h-2 v-1 h-1 Z" fill="#fff"/>
<path d="M653 640 h2 v1 h1 v2 h-1 v1 h-2 v-1 h-1 v-2 h1 Z" fill="#fff"/>
<path d="M658 641 h1 v-1 h2 v4 h-2 v-1 h-1 Z" fill="#fff"/>
<path d="M665 640 h2 v1 h1 v2 h-1 v1 h-2 v-1 h-1 v-2 h1 Z" fill="#fff"/>
<path d="M712 640 h2 v1 h1 v2 h-1 v1 h-2 v-1 h-1 v-2 h1 Z" fill="#fff"/>
<path d="M717 641 h1 v-1 h2 v4 h-2 v-1 h-1 Z" fill="#fff"/>
<path d="M723 640 h2 v1 h1 v2 h-1 v1 h-2 v-1 h-1 v-2 h1 Z" fill="#fff"/>
<path d="M652 647 h1 v-1 h2 v4 h-2 v-1 h-1 Z" fill="#fff"/>
<path d="M659 646 h2 v1 h1 v2 h-1 v1 h-2 v-1 h-1 v-2 h1 Z" fill="#fff"/>
<path d="M664 647 h1 v-1 h2 v4 h-2 v-1 h-1 Z" fill="#fff"/>
<path d="M711 647 h1 v-1 h2 v4 h-2 v-1 h-1 Z" fill="#fff"/>
<path d="M718 646 h2 v1 h1 v2 h-1 v1 h-2 v-1 h-1 v-2 h1 Z" fill="#fff"/>
<path d="M723 647 h1 v-1 h2 v4 h-2 v-1 h-1 Z" fill="#fff"/>
<path d="M653 652 h2 v1 h1 v2 h-1 v1 h-2 v-1 h-1 v-2 h1 Z" fill="#fff"/>
<path d="M658 653 h1 v-1 h2 v4 h-2 v-1 h-1 Z" fill="#fff"/>
<path d="M665 652 h2 v1 h1 v2 h-1 v1 h-2 v-1 h-1 v-2 h1 Z" fill="#fff"/>
<path d="M670 653 h1 v-1 h2 v4 h-2 v-1 h-1 Z" fill="#fff"/>
<path d="M677 652 h2 v1 h1 v2 h-1 v1 h-2 v-1 h-1 v-2 h1 Z" fill="#fff"/>
<path d="M682 653 h1 v-1 h2 v4 h-2 v-1 h-1 Z" fill="#fff"/>
<path d="M688 652 h2 v1 h1 v2 h-1 v1 h-2 v-1 h-1 v-2 h1 Z" fill="#fff"/>
<path d="M694 653 h1 v-1 h2 v4 h-2 v-1 h-1 Z" fill="#fff"/>
<path d="M700 652 h2 v1 h1 v2 h-1 v1 h-2 v-1 h-1 v-2 h1 Z" fill="#fff"/>
<path d="M705 653 h1 v-1 h2 v4 h-2 v-1 h-1 Z" fill="#fff"/>
<path d="M712 652 h2 v1 h1 v2 h-1 v1 h-2 v-1 h-1 v-2 h1 Z" fill="#fff"/>
<path d="M717 653 h1 v-1 h2 v4 h-2 v-1 h-1 Z" fill="#fff"/>
<path d="M723 652 h2 v1 h1 v2 h-1 v1 h-2 v-1 h-1 v-2 h1 Z" fill="#fff"/>
<path d="M652 659 h1 v-1 h2 v4 h-2 v-1 h-1 Z" fill="#fff"/>
<path d="M659 658 h2 v1 h1 v2 h-1 v1 h-2 v-1 h-1 v-2 h1 Z" fill="#fff"/>
<path d="M664 659 h1 v-1 h2 v4 h-2 v-1 h-1 Z" fill="#fff"/>
<path d="M671 658 h2 v1 h1 v2 h-1 v1 h-2 v-1 h-1 v-2 h1 Z" fill="#fff"/>
<path d="M676 659 h1 v-1 h2 v4 h-2 v-1 h-1 Z" fill="#fff"/>
<path d="M682 658 h2 v1 h1 v2 h-1 v1 h-2 v-1 h-1 v-2 h1 Z" fill="#fff"/>
<path d="M688 659 h1 v-1 h2 v4 h-2 v-1 h-1 Z" fill="#fff"/>
<path d="M694 658 h2 v1 h1 v2 h-1 v1 h-2 v-1 h-1 v-2 h1 Z" fill="#fff"/>
<path d="M700 659 h1 v-1 h2 v4 h-2 v-1 h-1 Z" fill="#fff"/>
<path d="M706 658 h2 v1 h1 v2 h-1 v1 h-2 v-1 h-1 v-2 h1 Z" fill="#fff"/>
<path d="M711 659 h1 v-1 h2 v4 h-2 v-1 h-1 Z" fill="#fff"/>
<path d="M718 658 h2 v1 h1 v2 h-1 v1 h-2 v-1 h-1 v-2 h1 Z" fill="#fff"/>
<path d="M723 659 h1 v-1 h2 v4 h-2 v-1 h-1 Z" fill="#fff"/>
<path d="M653 664 h2 v1 h1 v2 h-1 v1 h-2 v-1 h-1 v-2 h1 Z" fill="#fff"/>
<path d="M658 665 h1 v-1 h2 v4 h-2 v-1 h-1 Z" fill="#fff"/>
<path d="M665 664 h2 v1 h1 v2 h-1 v1 h-2 v-1 h-1 v-2 h1 Z" fill="#fff"/>
<path d="M670 665 h1 v-1 h2 v4 h-2 v-1 h-1 Z" fill="#fff"/>
<path d="M677 664 h2 v1 h1 v2 h-1 v1 h-2 v-1 h-1 v-2 h1 Z" fill="#fff"/>
<path d="M682 665 h1 v-1 h2 v4 h-2 v-1 h-1 Z" fill="#fff"/>
<path d="M688 664 h2 v1 h1 v2 h-1 v1 h-2 v-1 h-1 v-2 h1 Z" fill="#fff"/>
<path d="M694 665 h1 v-1 h2 v4 h-2 v-1 h-1 Z" fill="#fff"/>
<path d="M700 664 h2 v1 h1 v2 h-1 v1 h-2 v-1 h-1 v-2 h1 Z" fill="#fff"/>
<path d="M705 665 h1 v-1 h2 v4 h-2 v-1 h-1 Z" fill="#fff"/>
<path d="M712 664 h2 v1 h1 v2 h-1 v1 h-2 v-1 h-1 v-2 h1 Z" fill="#fff"/>
<path d="M717 665 h1 v-1 h2 v4 h-2 v-1 h-1 Z" fill="#fff"/>
<path d="M723 664 h2 v1 h1 v2 h-1 v1 h-2 v-1 h-1 v-2 h1 Z" fill="#fff"/>
<rect x="672" y="613" width="35" height="35" fill="#fff"/>
<rect x="673" y="621" width="33" height="19" rx="4"/>
<rect x="675" y="622.5" width="29.5" height="15.5" rx="3" fill="#fff"/>
<circle cx="676" cy="643.5" r="2.5" shape-rendering="auto"/>
<rect x="816" y="454" width="30" height="38"/>
<rect x="840" y="450" width="6" height="46"/>
<rect x="842" y="448" width="4" height="50"/>
<rect x="809" y="463" width="7" height="9"/>
<rect x="810" y="464" width="5" height="7" fill="#fff"/>
<rect x="809" y="474" width="7" height="9"/>
<rect x="810" y="475" width="5" height="7" fill="#fff"/>
<rect x="813" y="461" width="3" height="24"/>
<rect x="814" y="462" width="2" height="22" fill="#fff"/>
<rect x="814" y="472" width="2" height="1"/>
<rect x="814" y="474" width="2" height="1"/>
<rect x="813" y="550" width="25" height="112"/>
<rect x="814" y="551" width="23" height="110" fill="#fff"/>
<rect x="816" y="551" width="8" height="2"/>
<rect x="817" y="551" width="1" height="1" fill="#fff"/>
<rect x="822" y="551" width="1" height="1" fill="#fff"/>
<rect x="819" y="550" width="3" height="1" fill="#fff"/>
<rect x="820" y="551" width="1" height="1" fill="#fff"/>
<rect x="816" y="555" width="8" height="8"/>
<rect x="817" y="556" width="6" height="6" fill="#fff"/>
<rect x="816" y="565" width="8" height="8"/>
<rect x="817" y="566" width="6" height="6" fill="#fff"/>
<rect x="816" y="575" width="8" height="7"/>
<rect x="817" y="576" width="6" height="5" fill="#fff"/>
<rect x="816" y="584" width="8" height="7"/>
<rect x="817" y="585" width="6" height="5" fill="#fff"/>
<rect x="816" y="593" width="8" height="7"/>
<rect x="817" y="594" width="6" height="5" fill="#fff"/>
<rect x="816" y="602" width="8" height="7"/>
<rect x="817" y="603" width="6" height="5" fill="#fff"/>
<rect x="816" y="611" width="8" height="7"/>
<rect x="817" y="612" width="6" height="5" fill="#fff"/>
<rect x="816" y="621" width="8" height="7"/>
<rect x="817" y="622" width="6" height="5" fill="#fff"/>
<rect x="816" y="630" width="8" height="7"/>
<rect x="817" y="631" width="6" height="5" fill="#fff"/>
<rect x="816" y="639" width="8" height="7"/>
<rect x="817" y="640" width="6" height="5" fill="#fff"/>
<rect x="816" y="649" width="8" height="8"/>
<rect x="817" y="650" width="6" height="6" fill="#fff"/>
<rect x="816" y="658" width="8" height="1"/>
<rect x="816" y="658" width="1" height="4"/>
<rect x="823" y="658" width="1" height="4"/>
<rect x="818" y="660" width="4" height="1"/>
<rect x="818" y="660" width="1" height="2"/>
<rect x="821" y="660" width="1" height="2"/>
<rect x="829" y="551" width="1" height="110"/>
<rect x="825" y="551" width="2" height="8"/>
<rect x="831" y="551" width="3" height="1"/>
<rect x="831" y="557" width="3" height="1"/>
<rect x="831" y="552" width="1" height="5"/>
<rect x="833" y="552" width="2" height="5"/>
<rect x="830" y="553" width="1" height="3"/>
<rect x="825" y="560" width="2" height="7"/>
<rect x="831" y="560" width="3" height="1"/>
<rect x="831" y="566" width="3" height="1"/>
<rect x="831" y="561" width="1" height="5"/>
<rect x="833" y="561" width="2" height="5"/>
<rect x="830" y="562" width="1" height="3"/>
<rect x="825" y="570" width="2" height="7"/>
<rect x="831" y="570" width="3" height="1"/>
<rect x="831" y="576" width="3" height="1"/>
<rect x="831" y="571" width="1" height="5"/>
<rect x="833" y="571" width="2" height="5"/>
<rect x="830" y="572" width="1" height="3"/>
<rect x="825" y="579" width="2" height="7"/>
<rect x="831" y="579" width="3" height="1"/>
<rect x="831" y="585" width="3" height="1"/>
<rect x="831" y="580" width="1" height="5"/>
<rect x="833" y="580" width="2" height="5"/>
<rect x="830" y="581" width="1" height="3"/>
<rect x="825" y="588" width="2" height="7"/>
<rect x="831" y="588" width="3" height="1"/>
<rect x="831" y="594" width="3" height="1"/>
<rect x="831" y="589" width="1" height="5"/>
<rect x="833" y="589" width="2" height="5"/>
<rect x="830" y="590" width="1" height="3"/>
<rect x="825" y="598" width="2" height="7"/>
<rect x="831" y="598" width="3" height="1"/>
<rect x="831" y="604" width="3" height="1"/>
<rect x="831" y="599" width="1" height="5"/>
<rect x="833" y="599" width="2" height="5"/>
<rect x="830" y="600" width="1" height="3"/>
<rect x="825" y="607" width="2" height="7"/>
<rect x="831" y="607" width="3" height="1"/>
<rect x="831" y="613" width="3" height="1"/>
<rect x="831" y="608" width="1" height="5"/>
<rect x="833" y="608" width="2" height="5"/>
<rect x="830" y="609" width="1" height="3"/>
<rect x="825" y="616" width="2" height="7"/>
<rect x="831" y="616" width="3" height="1"/>
<rect x="831" y="622" width="3" height="1"/>
<rect x="831" y="617" width="1" height="5"/>
<rect x="833" y="617" width="2" height="5"/>
<rect x="830" y="618" width="1" height="3"/>
<rect x="825" y="625" width="2" height="7"/>
<rect x="831" y="625" width="3" height="1"/>
<rect x="831" y="631" width="3" height="1"/>
<rect x="831" y="626" width="1" height="5"/>
<rect x="833" y="626" width="2" height="5"/>
<rect x="830" y="627" width="1" height="3"/>
<rect x="825" y="635" width="2" height="7"/>
<rect x="831" y="635" width="3" height="1"/>
<rect x="831" y="641" width="3" height="1"/>
<rect x="831" y="636" width="1" height="5"/>
<rect x="833" y="636" width="2" height="5"/>
<rect x="830" y="637" width="1" height="3"/>
<rect x="825" y="644" width="2" height="7"/>
<rect x="831" y="644" width="3" height="1"/>
<rect x="831" y="650" width="3" height="1"/>
<rect x="831" y="645" width="1" height="5"/>
<rect x="833" y="645" width="2" height="5"/>
<rect x="830" y="646" width="1" height="3"/>
<rect x="825" y="653" width="2" height="7"/>
<rect x="831" y="653" width="3" height="1"/>
<rect x="831" y="659" width="3" height="1"/>
<rect x="831" y="654" width="1" height="5"/>
<rect x="833" y="654" width="2" height="5"/>
<rect x="830" y="655" width="1" height="3"/>
<rect x="813" y="661" width="25" height="1"/>
<rect x="771" y="667" width="34" height="19" rx="3.5" ry="3.5"/>
<rect x="773" y="670" width="30" height="14" rx="2.0" ry="2.0" fill="#fff"/>
<path d="M804.5 682.6 L811.4 692 L801.6 685.2" fill="#fff" stroke="#000" stroke-width="1.8" stroke-linejoin="bevel" shape-rendering="auto"/>
<path d="M806.57 685.42 L811.4 692 L804.54 687.24 Z" shape-rendering="auto"/>
<rect x="801" y="697" width="25" height="6"/>
<rect x="802" y="698" width="1" height="4" fill="#fff"/>
<rect x="804" y="699" width="3" height="2" fill="#fff"/>
<rect x="808" y="698" width="1" height="4" fill="#fff"/>
<rect x="813" y="698" width="2" height="4" fill="#fff"/>
<rect x="819" y="698" width="2" height="4" fill="#fff"/>
<defs><filter id="bw" x="0" y="0" width="851" height="731" filterUnits="userSpaceOnUse" color-interpolation-filters="sRGB"><feComponentTransfer><feFuncA type="discrete" tableValues="0 1"/></feComponentTransfer></filter></defs>
<g filter="url(#bw)">
<text transform="translate(0 40) scale(0.7 1)" x="147.35 160.21 173.07" y="0" font-size="14.5">KBD</text>
<text transform="translate(0 82) scale(0.7 1)" x="59.43 69.18 79.69" y="0" font-size="14.5">J15</text>
<text transform="translate(0 118) scale(0.7 1)" x="59.43 70.61 81.72" y="0" font-size="14.5">J16</text>
<text transform="translate(0 108) scale(0.7 1)" x="250.21 262.92 269.03 283.63" y="0" font-size="14.5">BIOS</text>
<text transform="translate(0 123) scale(0.7 1)" x="250.21 263.65 275.92 287.35" y="0" font-size="14.5">EVEN</text>
<text transform="translate(0 220) scale(0.7 1)" x="254.5 267.2 273.6 287.2" y="0" font-size="14.5">BIOS</text>
<text transform="translate(0 234.6) scale(0.7 1)" x="253.88 268.78 283.07" y="0" font-size="14.5">ODD</text>
<text transform="translate(0 66) scale(0.68 1)" x="1026.85 1041.55 1052.43 1062.86 1071.7 1081.39" y="0" font-size="13">MH0517</text>
<text transform="translate(0 334) scale(0.7 1)" x="600.77 614.9" y="0" font-size="14.5">S1</text>
<text transform="translate(0 166) scale(0.7 1)" x="558.22 576.32" y="0" font-size="14.5">W1</text>
<text transform="translate(0 166) scale(0.7 1)" x="605.08 620.7" y="0" font-size="14.5">W2</text>
<text transform="translate(0 190) scale(0.7 1)" x="521.22 536.88" y="0" font-size="14.5">W3</text>
<text transform="translate(0 190) scale(0.7 1)" x="639.65 654.94" y="0" font-size="14.5">W4</text>
<text transform="translate(0 229) scale(0.7 1)" x="521.36 536.56" y="0" font-size="14.5">W5</text>
<text transform="translate(0 229) scale(0.7 1)" x="640.94 654.55" y="0" font-size="14.5">W6</text>
<text transform="translate(0 252) scale(0.7 1)" x="558.79 574.4" y="0" font-size="14.5">W7</text>
<text transform="translate(0 252) scale(0.7 1)" x="605.22 621.66" y="0" font-size="14.5">W8</text>
<text transform="translate(0 278) scale(0.7 1)" x="68.37 78.37 89.28" y="0" font-size="13.4">J23</text>
<text transform="translate(0 308) scale(0.7 1)" x="89.43 99.18 111.38" y="0" font-size="14.5">J17</text>
<text transform="translate(0 349) scale(0.7 1)" x="178 187.75 198.85" y="0" font-size="14.5">J18</text>
<text transform="translate(0 336) scale(0.85 1)" x="64.05" y="0" font-size="13">2</text>
<text transform="translate(0 336) scale(0.85 1)" x="113.18 121.58" y="0" font-size="13">16</text>
<text transform="translate(0 362) scale(0.85 1)" x="113.18 121.71" y="0" font-size="13">15</text>
<text transform="translate(0 411) scale(0.7 1)" x="817.35 830.11 843.07 855.92 866.19 876.43" y="0" font-size="14.5">BANK 0</text>
<text transform="translate(0 496) scale(0.7 1)" x="821.64 834.26 845.92 858.78 869.58 879.18" y="0" font-size="14.5">BANK 1</text>
<text transform="translate(0 471) scale(0.7 1)" x="586.41 598.54 609.84 624.5 638.78" y="0" font-size="14.5">CACHE</text>
<text transform="translate(0 461) scale(0.7 1)" x="499.43 509.18 519.77" y="0" font-size="14.5">J19</text>
<text transform="translate(0 628) scale(0.7 1)" x="805.12 818.78 831.71" y="0" font-size="14.5">CPU</text>
<text transform="translate(0 634) scale(0.7 1)" x="965.92 980.21 991.71" y="0" font-size="14.5">NPU</text>
<text transform="translate(0 681) scale(0.7 1)" x="1108 1118.17 1128.95" y="0" font-size="14.5">J22</text>
</g>
</svg>
</body>
</html>
